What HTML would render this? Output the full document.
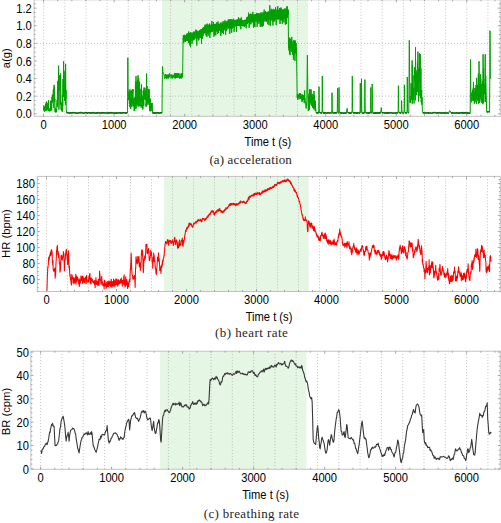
<!DOCTYPE html><html><head><meta charset="utf-8"><style>html,body{margin:0;padding:0;background:#fff;}svg{display:block;}</style></head><body><svg width="501" height="523" viewBox="0 0 501 523">
<rect width="501" height="523" fill="#fff"/>
<rect x="162.0" y="-0.2" width="146.0" height="116.5" fill="#e5f6e4"/>
<line x1="43.60" y1="-0.2" x2="43.60" y2="116.3" stroke="#ababab" stroke-width="0.8" stroke-dasharray="0.9 2.1"/>
<line x1="64.76" y1="-0.2" x2="64.76" y2="116.3" stroke="#ababab" stroke-width="0.8" stroke-dasharray="0.9 2.1"/>
<line x1="85.92" y1="-0.2" x2="85.92" y2="116.3" stroke="#ababab" stroke-width="0.8" stroke-dasharray="0.9 2.1"/>
<line x1="107.08" y1="-0.2" x2="107.08" y2="116.3" stroke="#ababab" stroke-width="0.8" stroke-dasharray="0.9 2.1"/>
<line x1="128.24" y1="-0.2" x2="128.24" y2="116.3" stroke="#ababab" stroke-width="0.8" stroke-dasharray="0.9 2.1"/>
<line x1="149.39" y1="-0.2" x2="149.39" y2="116.3" stroke="#ababab" stroke-width="0.8" stroke-dasharray="0.9 2.1"/>
<line x1="170.55" y1="-0.2" x2="170.55" y2="116.3" stroke="#ababab" stroke-width="0.8" stroke-dasharray="0.9 2.1"/>
<line x1="191.71" y1="-0.2" x2="191.71" y2="116.3" stroke="#ababab" stroke-width="0.8" stroke-dasharray="0.9 2.1"/>
<line x1="212.87" y1="-0.2" x2="212.87" y2="116.3" stroke="#ababab" stroke-width="0.8" stroke-dasharray="0.9 2.1"/>
<line x1="234.03" y1="-0.2" x2="234.03" y2="116.3" stroke="#ababab" stroke-width="0.8" stroke-dasharray="0.9 2.1"/>
<line x1="255.19" y1="-0.2" x2="255.19" y2="116.3" stroke="#ababab" stroke-width="0.8" stroke-dasharray="0.9 2.1"/>
<line x1="276.35" y1="-0.2" x2="276.35" y2="116.3" stroke="#ababab" stroke-width="0.8" stroke-dasharray="0.9 2.1"/>
<line x1="297.51" y1="-0.2" x2="297.51" y2="116.3" stroke="#ababab" stroke-width="0.8" stroke-dasharray="0.9 2.1"/>
<line x1="318.67" y1="-0.2" x2="318.67" y2="116.3" stroke="#ababab" stroke-width="0.8" stroke-dasharray="0.9 2.1"/>
<line x1="339.83" y1="-0.2" x2="339.83" y2="116.3" stroke="#ababab" stroke-width="0.8" stroke-dasharray="0.9 2.1"/>
<line x1="360.99" y1="-0.2" x2="360.99" y2="116.3" stroke="#ababab" stroke-width="0.8" stroke-dasharray="0.9 2.1"/>
<line x1="382.14" y1="-0.2" x2="382.14" y2="116.3" stroke="#ababab" stroke-width="0.8" stroke-dasharray="0.9 2.1"/>
<line x1="403.30" y1="-0.2" x2="403.30" y2="116.3" stroke="#ababab" stroke-width="0.8" stroke-dasharray="0.9 2.1"/>
<line x1="424.46" y1="-0.2" x2="424.46" y2="116.3" stroke="#ababab" stroke-width="0.8" stroke-dasharray="0.9 2.1"/>
<line x1="445.62" y1="-0.2" x2="445.62" y2="116.3" stroke="#ababab" stroke-width="0.8" stroke-dasharray="0.9 2.1"/>
<line x1="466.78" y1="-0.2" x2="466.78" y2="116.3" stroke="#ababab" stroke-width="0.8" stroke-dasharray="0.9 2.1"/>
<line x1="487.94" y1="-0.2" x2="487.94" y2="116.3" stroke="#ababab" stroke-width="0.8" stroke-dasharray="0.9 2.1"/>
<line x1="34.1" y1="96.15" x2="500.3" y2="96.15" stroke="#ababab" stroke-width="0.8" stroke-dasharray="0.9 2.1"/>
<line x1="34.1" y1="43.35" x2="500.3" y2="43.35" stroke="#ababab" stroke-width="0.8" stroke-dasharray="0.9 2.1"/>
<path d="M183.30,36.04L184.30,35.64L185.30,35.23L186.29,34.83L187.29,34.42L188.29,34.02L189.29,33.61L190.29,33.21L191.28,32.80L192.28,32.45L193.28,32.25L194.28,32.04L195.28,31.83L196.28,31.62L197.27,31.41L198.27,31.20L199.27,30.99L200.27,30.57L201.27,29.59L202.26,28.60L203.26,27.61L204.26,26.63L205.26,25.84L206.26,25.62L207.25,25.41L208.25,25.19L209.25,24.97L210.25,24.75L211.25,24.53L212.24,24.31L213.24,24.10L214.24,23.88L215.24,23.73L216.24,23.81L217.24,23.88L218.23,23.96L219.23,24.03L220.23,23.99L221.23,23.57L222.23,23.14L223.22,22.72L224.22,22.30L225.22,21.87L226.22,21.46L227.22,21.05L228.21,20.64L229.21,20.23L230.21,19.89L231.21,19.84L232.21,19.79L233.20,19.75L234.20,19.70L235.20,19.66L236.20,19.66L237.20,19.66L238.20,19.66L239.19,19.66L240.19,19.69L241.19,19.84L242.19,19.99L243.19,20.14L244.18,20.29L245.18,20.16L246.18,18.79L247.18,17.41L248.18,16.14L249.17,15.33L250.17,14.64L251.17,14.56L252.17,14.47L253.17,14.38L254.16,14.29L255.16,14.21L256.16,14.12L257.16,14.03L258.16,13.95L259.16,13.86L260.15,13.75L261.15,13.54L262.15,13.34L263.15,13.13L264.15,12.92L265.14,12.71L266.14,12.46L267.14,11.95L268.14,11.43L269.14,10.92L270.13,10.46L271.13,10.38L272.13,10.30L273.13,10.22L274.13,10.14L275.12,10.06L276.12,9.97L277.12,9.89L278.12,9.81L279.12,9.73L280.12,9.65L281.11,9.59L282.11,9.53L283.11,9.47L284.11,9.41L285.11,9.35L286.10,9.29L287.10,9.23L288.10,9.17L288.10,17.67L287.10,17.76L286.10,17.86L285.11,17.96L284.11,18.06L283.11,18.16L282.11,18.26L281.11,18.36L280.12,18.46L279.12,18.51L278.12,18.56L277.12,18.61L276.12,18.66L275.12,18.71L274.13,18.76L273.13,18.81L272.13,18.86L271.13,18.91L270.13,18.96L269.14,19.28L268.14,19.63L267.14,19.99L266.14,20.35L265.14,20.53L264.15,20.69L263.15,20.85L262.15,21.00L261.15,21.16L260.15,21.31L259.16,21.41L258.16,21.50L257.16,21.58L256.16,21.67L255.16,21.76L254.16,21.85L253.17,21.93L252.17,22.02L251.17,22.11L250.17,22.19L249.17,22.62L248.18,23.12L247.18,23.99L246.18,24.95L245.18,25.90L244.18,26.05L243.19,26.03L242.19,26.00L241.19,25.98L240.19,25.96L239.19,25.95L238.20,25.95L237.20,25.95L236.20,25.95L235.20,25.95L234.20,26.19L233.20,26.49L232.21,26.79L231.21,27.09L230.21,27.39L229.21,27.68L228.21,27.97L227.22,28.25L226.22,28.54L225.22,28.82L224.22,29.17L223.22,29.53L222.23,29.89L221.23,30.25L220.23,30.61L219.23,30.69L218.23,30.67L217.24,30.66L216.24,30.65L215.24,30.64L214.24,30.80L213.24,31.02L212.24,31.24L211.25,31.46L210.25,31.67L209.25,31.89L208.25,32.11L207.25,32.33L206.26,32.55L205.26,32.76L204.26,33.32L203.26,33.99L202.26,34.66L201.27,35.33L200.27,36.00L199.27,36.51L198.27,36.96L197.27,37.40L196.28,37.85L195.28,38.29L194.28,38.73L193.28,39.18L192.28,39.62L191.28,39.89L190.29,40.08L189.29,40.27L188.29,40.46L187.29,40.65L186.29,40.84L185.30,41.03L184.30,41.22L183.30,41.41Z" fill="#00a000" stroke="none"/>
<path d="M43.60,107.94L43.75,109.78L43.90,105.62L44.05,110.93L44.20,106.61L44.35,107.97L44.50,111.24L44.65,106.92L44.80,111.57L44.95,107.29L45.10,110.95L45.25,110.60L45.40,107.13L45.55,104.17L45.70,109.98L45.85,108.67L46.00,104.90L46.15,102.42L46.30,104.91L46.45,106.35L46.50,101.46L46.60,101.71L46.75,111.06L46.90,102.78L47.05,107.65L47.20,109.46L47.35,109.88L47.50,107.65L47.65,103.25L47.80,108.83L47.95,104.54L48.10,103.81L48.25,106.12L48.40,104.15L48.50,100.15L48.55,110.54L48.70,110.98L48.85,109.69L49.00,107.97L49.00,111.05L49.15,111.36L49.30,110.26L49.45,110.62L49.60,111.16L49.75,109.01L49.90,109.22L50.05,111.20L50.20,109.46L50.35,109.56L50.50,107.72L50.65,108.24L50.80,110.57L50.80,100.74L50.95,109.22L51.10,104.66L51.26,100.51L51.41,107.88L51.56,102.34L51.71,110.41L51.86,98.97L52.01,97.15L52.17,99.17L52.32,94.60L52.47,102.65L52.62,95.89L52.77,96.92L52.92,96.68L53.08,98.43L53.23,91.45L53.38,89.18L53.53,96.72L53.68,92.53L53.83,107.86L53.99,90.66L54.10,84.86L54.14,91.58L54.29,86.86L54.44,90.99L54.59,101.99L54.74,100.67L54.90,98.84L55.05,111.51L55.20,107.88L55.20,111.99L55.35,112.18L55.50,112.44L55.65,109.75L55.80,112.07L55.95,111.52L56.10,110.89L56.25,109.06L56.40,112.25L56.55,110.12L56.70,108.22L56.85,104.02L57.00,102.58L57.15,100.09L57.30,106.86L57.30,97.15L57.45,96.98L57.60,84.54L57.74,80.81L57.89,100.29L58.04,98.36L58.19,95.05L58.34,93.95L58.48,82.90L58.60,65.63L58.63,78.28L58.78,91.70L58.93,109.55L59.08,87.64L59.22,90.37L59.37,84.95L59.52,75.27L59.67,81.49L59.82,86.18L59.96,83.25L60.11,81.62L60.26,104.60L60.41,75.93L60.56,78.73L60.60,73.50L60.70,81.85L60.85,90.76L61.00,102.60L61.00,104.41L61.15,109.55L61.29,102.44L61.44,110.58L61.58,110.60L61.73,108.91L61.87,109.70L62.02,108.12L62.16,110.83L62.31,111.93L62.45,108.12L62.60,108.73L62.60,95.04L62.75,106.07L62.90,79.09L63.05,82.42L63.20,96.80L63.35,90.68L63.50,85.00L63.60,61.26L63.65,83.62L63.80,96.73L63.95,71.70L64.10,70.78L64.25,86.63L64.40,86.19L64.55,100.85L64.70,99.61L64.85,88.61L65.00,91.04L65.15,71.97L65.30,94.92L65.45,104.72L65.60,63.88L65.60,65.23L65.75,82.36L65.90,98.70L66.05,90.09L66.20,106.83L66.30,109.33L66.60,112.89L67.10,112.58L67.60,112.66L68.10,112.78L68.59,113.08L69.09,113.01L69.59,113.15L70.09,112.72L70.59,112.89L71.09,112.72L71.58,113.03L72.08,113.11L72.58,112.70L73.08,112.57L73.58,112.67L74.08,112.70L74.57,112.69L75.07,112.75L75.57,113.10L76.07,112.90L76.57,113.01L77.07,113.24L77.56,113.24L78.06,113.07L78.56,113.08L79.06,112.78L79.56,112.59L80.06,112.95L80.55,112.61L81.05,112.57L81.55,112.60L82.05,113.01L82.55,113.11L83.05,113.10L83.54,113.13L84.04,113.12L84.54,112.83L85.04,112.63L85.54,112.68L86.04,112.93L86.53,112.81L87.03,112.70L87.53,113.20L88.03,112.80L88.53,112.63L89.03,112.72L89.52,112.74L90.02,112.93L90.52,113.14L91.02,112.71L91.52,113.03L92.02,112.70L92.51,112.58L93.01,112.99L93.51,112.98L94.01,112.60L94.51,112.76L95.01,113.14L95.50,113.17L96.00,113.16L96.50,112.63L97.00,112.70L97.50,113.16L98.00,112.69L98.50,112.58L98.99,112.80L99.49,113.02L99.99,112.88L100.49,113.17L100.99,113.25L101.49,112.58L101.98,112.81L102.48,112.89L102.98,112.61L103.48,112.96L103.98,112.65L104.48,112.69L104.97,113.12L105.47,113.09L105.97,113.06L106.47,113.09L106.97,112.85L107.47,113.08L107.96,112.97L108.46,113.17L108.96,112.63L109.46,113.02L109.96,112.94L110.46,112.86L110.95,112.63L111.45,112.97L111.95,112.62L112.45,112.91L112.95,112.89L113.45,112.90L113.94,113.25L114.44,112.96L114.94,113.13L115.44,113.26L115.94,112.70L116.44,113.14L116.93,112.93L117.43,112.76L117.93,112.87L118.43,113.04L118.93,112.90L119.43,112.87L119.92,112.71L120.42,113.19L120.92,112.87L121.42,113.09L121.92,113.07L122.42,112.72L122.91,112.91L123.41,112.87L123.91,112.73L124.41,112.62L124.91,112.95L125.41,112.83L125.90,112.91L126.40,112.90L126.90,112.78L127.40,112.95L127.60,96.22L127.80,57.76L128.10,87.48L128.30,92.72L128.50,99.41L128.65,100.24L128.80,92.24L128.95,95.98L129.10,92.79L129.25,91.48L129.40,104.07L129.55,97.76L129.70,90.71L129.85,92.25L130.00,106.83L130.00,89.23L130.15,107.27L130.30,99.63L130.45,108.78L130.60,104.14L130.75,108.76L130.89,95.13L131.04,93.02L131.19,91.01L131.34,106.35L131.49,94.26L131.64,95.31L131.79,106.67L131.94,91.26L132.09,89.78L132.24,104.66L132.39,90.04L132.54,100.56L132.69,98.70L132.84,89.40L132.99,92.15L133.00,89.23L133.14,106.33L133.29,100.57L133.44,99.37L133.59,103.07L133.74,106.28L133.89,104.07L134.04,97.94L134.19,111.06L134.34,101.36L134.49,103.41L134.64,111.09L134.79,103.44L134.94,96.89L135.09,97.76L135.24,108.64L135.39,84.92L135.54,87.38L135.68,81.19L135.83,105.54L135.98,98.56L136.00,76.12L136.13,108.46L136.28,83.19L136.43,98.91L136.58,104.33L136.73,94.57L136.88,82.08L137.03,84.62L137.18,99.71L137.33,103.36L137.48,79.99L137.63,88.81L137.78,84.50L137.93,105.15L138.00,75.24L138.08,106.71L138.23,84.34L138.38,92.53L138.53,105.94L138.68,78.40L138.83,86.84L138.98,82.57L139.13,105.43L139.28,81.76L139.43,106.23L139.58,82.95L139.73,94.49L139.88,98.44L140.03,94.45L140.18,88.85L140.33,102.52L140.47,106.18L140.62,98.28L140.77,103.25L140.92,106.11L141.07,104.44L141.22,107.68L141.37,102.73L141.50,84.42L141.52,99.49L141.67,99.97L141.82,90.53L141.97,100.94L142.12,96.70L142.27,104.19L142.42,100.61L142.57,109.19L142.72,103.22L142.87,109.38L143.02,95.60L143.17,97.99L143.32,104.53L143.47,98.54L143.62,90.19L143.77,106.16L143.92,90.95L144.00,87.48L144.07,98.09L144.22,96.79L144.37,90.36L144.52,98.92L144.67,96.56L144.82,93.04L144.97,87.78L145.12,100.03L145.26,90.40L145.41,92.69L145.56,93.44L145.71,97.29L145.86,97.83L146.01,106.91L146.16,103.47L146.31,105.67L146.46,82.29L146.60,73.50L146.61,97.09L146.76,101.61L146.91,105.43L147.06,86.05L147.21,88.12L147.36,93.39L147.51,101.46L147.66,102.44L147.81,101.28L147.96,97.76L148.11,104.70L148.26,98.21L148.41,102.26L148.56,88.93L148.71,88.85L148.86,96.57L149.01,103.06L149.16,89.26L149.31,101.75L149.46,100.81L149.61,110.99L149.76,100.46L149.91,98.64L150.05,98.34L150.20,105.13L150.35,99.39L150.50,111.26L150.65,104.80L150.80,108.85L150.95,103.22L151.10,110.45L151.25,111.14L151.40,106.02L151.55,107.47L151.70,103.33L151.85,104.55L152.00,102.89L152.15,103.82L152.30,103.26L152.50,112.74L153.00,113.08L153.50,113.12L154.00,112.66L154.50,113.25L155.00,112.84L155.50,112.90L156.00,113.32L156.50,112.77L157.00,112.73L157.50,112.91L158.00,112.84L158.50,112.78L159.00,113.25L159.50,112.98L160.00,113.00L160.50,112.77L161.00,112.79L161.50,112.77L162.00,112.94L162.20,87.48L162.50,66.50L162.90,71.75L163.50,73.50L163.80,74.06L164.00,75.15L164.20,75.09L164.40,77.53L164.60,78.58L164.80,78.04L165.00,76.83L165.20,78.18L165.40,74.29L165.60,75.76L165.80,75.39L166.00,75.39L166.20,75.09L166.40,76.11L166.60,78.72L166.80,74.45L167.00,74.70L167.20,76.02L167.40,75.84L167.60,75.17L167.80,78.38L168.00,74.73L168.20,77.37L168.40,78.33L168.60,77.29L168.80,74.75L169.00,77.61L169.20,74.67L169.40,73.37L169.60,76.02L169.80,76.63L170.00,76.09L170.20,74.95L170.40,74.48L170.60,75.31L170.80,75.16L171.00,78.31L171.20,77.92L171.40,77.32L171.60,74.57L171.80,77.03L172.00,75.55L172.20,78.67L172.40,78.40L172.60,77.22L172.80,74.93L173.00,74.81L173.20,74.90L173.40,77.08L173.60,75.80L173.80,76.09L174.00,76.07L174.20,78.06L174.40,73.61L174.60,77.60L174.80,73.11L175.00,73.34L175.20,78.64L175.40,76.09L175.60,73.99L175.80,73.12L176.00,76.13L176.20,77.18L176.40,77.52L176.60,73.22L176.80,77.51L177.00,75.33L177.20,77.91L177.40,75.66L177.60,73.13L177.80,77.96L178.00,73.90L178.20,75.73L178.40,73.49L178.60,74.57L178.80,77.37L179.00,73.40L179.20,75.84L179.40,78.59L179.60,78.72L179.80,75.80L180.00,76.04L180.20,76.93L180.40,77.89L180.60,76.67L180.80,76.83L181.00,73.66L181.20,78.73L181.40,74.19L181.60,73.65L181.80,78.01L182.00,73.10L182.20,74.39L182.40,73.23L182.60,76.97L182.80,61.26L183.10,38.54L183.20,39.70L183.36,34.98L183.52,39.71L183.68,42.93L183.84,36.01L184.00,35.18L184.16,40.28L184.32,40.83L184.48,34.81L184.64,35.87L184.80,35.01L184.96,37.84L185.12,41.79L185.28,38.53L185.44,36.92L185.60,41.71L185.76,41.04L185.92,39.23L186.08,35.92L186.24,39.85L186.40,39.47L186.56,38.64L186.72,40.57L186.88,34.20L187.04,40.01L187.20,33.28L187.36,40.64L187.52,41.03L187.68,41.00L187.84,39.50L188.00,33.89L188.16,38.05L188.32,37.01L188.48,43.14L188.64,31.51L188.80,35.91L188.96,39.64L189.12,39.30L189.28,37.44L189.44,33.66L189.60,45.24L189.76,33.09L189.92,43.52L190.08,32.66L190.24,33.27L190.40,42.21L190.50,47.28L190.56,36.35L190.70,35.04L190.72,32.24L190.88,35.03L191.04,36.83L191.20,40.89L191.36,38.96L191.52,34.83L191.68,39.93L191.84,34.82L192.00,43.91L192.16,35.25L192.32,38.78L192.48,40.82L192.64,36.31L192.80,34.45L192.96,36.06L193.12,38.21L193.28,33.74L193.44,40.24L193.60,33.94L193.76,37.85L193.92,31.50L194.08,39.81L194.24,36.14L194.40,38.14L194.56,33.09L194.72,37.94L194.88,36.90L195.04,37.57L195.20,32.74L195.36,30.99L195.52,37.76L195.68,35.66L195.84,29.62L196.00,37.33L196.16,39.43L196.32,35.64L196.49,31.37L196.65,30.37L196.80,45.53L196.81,36.00L196.97,30.83L197.00,35.04L197.13,38.37L197.29,35.41L197.45,35.74L197.61,38.38L197.77,35.46L197.93,37.24L198.09,36.50L198.25,31.51L198.41,40.49L198.57,34.99L198.73,36.34L198.89,39.93L199.05,31.41L199.21,37.94L199.37,30.51L199.53,31.79L199.69,34.83L199.85,30.14L200.01,35.27L200.17,34.75L200.33,37.00L200.49,29.92L200.65,38.06L200.81,33.03L200.97,29.14L201.13,34.55L201.29,32.49L201.45,34.87L201.50,43.78L201.61,30.24L201.70,35.04L201.77,29.81L201.93,33.33L202.09,32.93L202.25,35.19L202.41,29.37L202.57,38.55L202.73,32.75L202.89,27.78L203.05,35.87L203.21,30.86L203.37,31.19L203.53,31.33L203.69,28.87L203.85,27.15L204.01,33.66L204.17,31.96L204.33,31.10L204.49,32.61L204.65,32.06L204.81,25.86L204.97,31.05L205.13,24.60L205.29,31.88L205.45,27.79L205.61,33.05L205.77,26.12L205.93,35.50L206.09,32.78L206.25,24.54L206.41,24.92L206.57,25.50L206.73,31.29L206.89,36.88L207.05,27.76L207.21,23.62L207.37,31.20L207.53,27.35L207.69,33.47L207.85,27.02L208.01,30.51L208.17,25.83L208.33,35.51L208.49,28.11L208.65,32.49L208.81,26.65L208.97,30.57L209.13,24.10L209.29,27.78L209.45,29.19L209.61,23.58L209.77,31.23L209.93,37.82L210.09,28.98L210.25,29.11L210.41,28.55L210.57,32.81L210.73,26.75L210.89,32.02L211.05,29.28L211.21,31.41L211.37,27.76L211.53,31.69L211.69,24.97L211.85,20.99L212.01,23.26L212.17,32.09L212.33,28.83L212.49,26.57L212.65,30.95L212.81,30.32L212.97,24.29L213.13,30.63L213.29,28.51L213.45,22.17L213.61,25.32L213.77,31.85L213.93,36.61L214.09,31.05L214.25,26.86L214.41,29.17L214.57,26.47L214.73,25.71L214.89,35.25L215.05,27.28L215.21,24.65L215.37,27.59L215.53,32.65L215.69,34.30L215.85,35.32L216.01,31.20L216.17,24.58L216.33,31.47L216.49,28.40L216.65,30.69L216.81,22.56L216.97,24.29L217.13,22.73L217.29,22.98L217.45,30.43L217.61,33.82L217.77,24.89L217.93,23.59L218.09,21.54L218.25,23.40L218.41,29.53L218.57,32.94L218.73,30.48L218.89,25.68L219.05,30.42L219.21,30.92L219.37,26.11L219.53,23.93L219.69,26.64L219.85,31.02L220.01,26.20L220.17,24.59L220.33,22.75L220.49,28.49L220.65,27.67L220.81,36.00L220.97,29.29L221.13,22.46L221.29,25.36L221.45,32.26L221.61,25.68L221.77,26.58L221.93,30.07L222.09,31.26L222.25,33.07L222.41,29.03L222.57,25.54L222.74,25.15L222.90,29.70L223.06,21.26L223.22,24.82L223.38,23.39L223.54,34.13L223.70,25.35L223.86,24.49L224.02,21.65L224.18,28.15L224.34,30.04L224.50,26.52L224.66,29.79L224.82,30.18L224.98,20.19L225.14,24.34L225.30,23.95L225.46,28.42L225.62,34.74L225.78,22.40L225.94,29.93L226.10,22.64L226.26,22.61L226.42,31.08L226.58,29.44L226.74,22.34L226.90,21.33L227.06,27.04L227.22,25.29L227.38,24.36L227.54,23.11L227.70,27.34L227.86,29.33L228.02,27.05L228.18,19.79L228.34,26.02L228.50,25.96L228.66,19.97L228.82,22.11L228.98,19.10L229.14,20.47L229.30,20.22L229.46,21.53L229.62,25.82L229.78,33.76L229.94,29.50L230.10,19.18L230.26,29.05L230.42,21.61L230.58,21.55L230.74,27.99L230.90,24.91L231.06,20.26L231.22,27.83L231.38,19.29L231.54,27.32L231.70,32.77L231.86,20.28L232.02,20.15L232.18,28.67L232.34,20.78L232.50,24.98L232.66,27.79L232.82,25.25L232.98,24.40L233.14,18.77L233.30,19.82L233.46,27.43L233.62,23.63L233.78,24.42L233.94,22.64L234.10,31.79L234.26,28.49L234.42,20.56L234.58,27.28L234.74,22.92L234.90,25.59L235.06,24.14L235.22,24.90L235.38,24.69L235.54,21.06L235.70,26.21L235.86,26.47L236.02,21.08L236.18,21.69L236.34,23.67L236.50,31.83L236.66,26.95L236.82,24.87L236.98,22.79L237.14,19.45L237.30,23.15L237.46,20.58L237.62,21.53L237.78,24.32L237.94,19.81L238.10,20.69L238.26,23.34L238.42,17.42L238.58,19.44L238.74,25.50L238.90,21.03L239.06,25.82L239.22,25.01L239.38,22.61L239.54,24.31L239.70,18.65L239.86,26.28L240.02,26.29L240.18,18.61L240.34,20.81L240.50,25.48L240.66,26.25L240.82,29.27L240.98,20.40L241.14,22.90L241.30,17.34L241.46,23.74L241.62,19.50L241.78,22.34L241.94,23.64L242.10,21.13L242.26,20.71L242.42,20.08L242.58,21.86L242.74,24.59L242.90,26.37L243.06,20.75L243.22,22.03L243.38,23.72L243.54,22.13L243.70,21.71L243.86,25.70L244.02,20.92L244.18,23.25L244.34,26.87L244.50,25.89L244.66,19.72L244.82,26.38L244.98,22.92L245.14,22.98L245.30,20.24L245.46,23.43L245.62,24.90L245.78,23.22L245.94,25.32L246.10,27.65L246.26,28.26L246.42,22.27L246.58,22.69L246.74,23.66L246.90,17.07L247.06,23.38L247.22,21.64L247.38,23.89L247.54,17.38L247.70,20.38L247.86,22.52L248.02,21.14L248.18,16.53L248.34,19.83L248.50,12.68L248.66,20.75L248.82,21.52L248.99,21.57L249.15,27.84L249.31,21.12L249.47,20.82L249.63,19.42L249.79,16.92L249.95,13.98L250.11,23.07L250.27,14.15L250.43,22.17L250.59,23.69L250.75,13.63L250.91,24.35L251.07,21.13L251.23,19.94L251.39,14.07L251.55,21.78L251.71,17.15L251.87,16.50L252.03,15.24L252.19,21.42L252.35,17.91L252.51,18.86L252.67,17.62L252.83,11.87L252.99,22.80L253.15,21.89L253.31,18.16L253.47,27.78L253.63,18.45L253.79,16.37L253.95,19.40L254.11,26.66L254.27,26.50L254.43,16.13L254.59,19.81L254.75,17.91L254.91,27.02L255.07,16.68L255.23,14.18L255.39,18.23L255.55,15.11L255.71,18.61L255.87,17.35L256.03,20.08L256.19,18.90L256.35,20.27L256.51,12.88L256.67,14.79L256.83,19.76L256.99,16.92L257.15,26.84L257.31,13.75L257.47,22.50L257.63,22.95L257.79,13.33L257.95,16.08L258.11,13.43L258.27,16.49L258.43,15.64L258.59,15.79L258.75,15.92L258.91,23.85L259.07,22.50L259.23,13.28L259.39,18.99L259.55,14.59L259.71,20.12L259.87,18.39L260.03,18.28L260.19,25.75L260.35,27.00L260.51,16.67L260.67,24.74L260.83,16.44L260.99,12.30L261.15,26.02L261.31,20.37L261.47,26.18L261.63,21.28L261.79,21.61L261.95,26.29L262.11,19.92L262.27,26.53L262.43,14.84L262.59,25.72L262.75,14.82L262.91,12.40L263.07,12.03L263.23,25.75L263.39,23.94L263.55,14.45L263.71,13.00L263.87,21.60L264.03,16.02L264.19,9.66L264.35,18.25L264.51,15.34L264.67,17.95L264.83,11.86L264.99,15.93L265.15,21.39L265.31,14.38L265.47,18.39L265.63,11.33L265.79,15.40L265.95,17.26L266.11,17.77L266.27,15.23L266.43,12.89L266.59,21.72L266.75,17.00L266.91,12.55L267.07,21.11L267.23,12.44L267.39,15.05L267.55,11.83L267.71,13.63L267.87,24.22L268.03,12.20L268.19,12.66L268.35,18.48L268.51,13.33L268.67,18.68L268.83,12.33L268.99,25.18L269.15,11.93L269.31,14.09L269.47,10.45L269.63,15.15L269.79,18.46L269.80,5.32L269.95,18.50L270.00,15.81L270.11,16.33L270.27,15.85L270.43,25.83L270.59,23.91L270.75,11.27L270.91,13.51L271.07,20.75L271.23,8.83L271.39,14.79L271.55,17.45L271.71,15.49L271.87,11.42L272.03,9.08L272.19,20.07L272.35,20.78L272.51,13.87L272.67,15.04L272.83,23.63L272.99,25.52L273.15,17.41L273.31,12.82L273.47,12.46L273.63,15.10L273.79,8.90L273.95,21.79L274.11,16.22L274.27,9.59L274.43,19.86L274.59,11.90L274.75,21.17L274.91,11.33L275.07,12.26L275.24,13.28L275.40,19.11L275.56,7.28L275.72,18.34L275.88,18.64L276.04,20.20L276.20,25.21L276.36,17.68L276.52,9.86L276.68,18.64L276.84,19.15L277.00,10.12L277.16,14.83L277.32,10.32L277.48,7.68L277.64,19.60L277.80,6.24L277.96,17.04L278.12,18.37L278.28,10.05L278.44,18.21L278.60,16.37L278.76,18.85L278.92,19.54L279.08,12.07L279.24,14.39L279.40,17.06L279.56,15.75L279.72,7.99L279.88,18.99L280.04,23.99L280.20,16.57L280.36,19.95L280.52,7.91L280.68,9.96L280.84,17.83L281.00,8.97L281.16,7.49L281.32,10.67L281.48,20.48L281.64,12.61L281.80,16.67L281.96,12.54L282.12,10.12L282.28,23.78L282.44,14.98L282.60,19.24L282.76,15.84L282.92,9.43L283.08,19.67L283.24,14.09L283.40,16.61L283.56,9.78L283.72,17.82L283.88,22.49L284.04,14.39L284.20,18.28L284.36,9.92L284.52,15.85L284.68,15.11L284.84,18.93L285.00,8.23L285.16,13.49L285.32,24.69L285.48,16.93L285.64,18.36L285.80,20.07L285.96,11.22L286.12,19.32L286.28,12.65L286.44,24.06L286.60,20.12L286.76,13.60L286.92,6.69L287.08,17.80L287.24,6.31L287.40,10.55L287.56,9.60L287.72,14.76L287.88,9.42L288.04,14.65L288.20,10.14L288.50,47.41L288.62,44.77L288.74,39.67L288.86,39.59L288.98,50.49L289.10,37.69L289.21,47.91L289.33,42.49L289.45,53.62L289.57,52.45L289.69,37.82L289.81,38.37L289.93,40.31L290.05,55.12L290.17,48.50L290.29,48.49L290.41,38.87L290.52,49.04L290.64,46.38L290.76,48.69L290.88,43.33L291.00,44.22L291.12,45.53L291.24,46.35L291.36,51.34L291.48,51.71L291.60,47.55L291.72,36.96L291.84,40.96L291.95,45.27L292.07,51.18L292.19,47.17L292.31,44.84L292.43,49.77L292.55,51.32L292.67,48.81L292.79,54.97L292.91,41.15L293.03,46.25L293.15,50.85L293.26,50.78L293.38,59.65L293.50,57.68L293.62,48.65L293.74,54.39L293.86,39.94L293.98,53.86L294.10,50.55L294.22,46.06L294.34,42.55L294.46,44.07L294.58,43.77L294.69,43.38L294.81,41.13L294.93,60.96L295.05,47.17L295.17,40.42L295.29,50.40L295.41,42.16L295.53,51.30L295.65,49.95L295.77,53.11L295.89,48.32L296.00,52.79L296.12,42.94L296.24,50.69L296.36,53.45L296.48,48.36L296.60,57.82L296.90,78.74L297.20,97.59L297.36,94.23L297.52,98.41L297.68,99.94L297.84,96.06L298.00,93.73L298.16,96.26L298.31,96.42L298.47,95.32L298.63,97.50L298.79,97.56L298.95,95.41L299.11,99.27L299.27,97.27L299.43,96.13L299.59,93.53L299.75,97.05L299.91,93.34L300.07,96.48L300.22,98.91L300.38,93.48L300.54,96.63L300.70,94.07L300.86,94.58L301.02,94.13L301.18,99.10L301.34,96.71L301.50,98.92L301.66,95.93L301.82,97.83L301.98,101.69L302.13,94.89L302.29,101.35L302.45,94.54L302.61,95.74L302.77,96.92L302.93,98.53L303.09,96.72L303.25,96.43L303.41,99.57L303.57,95.18L303.73,99.75L303.89,96.84L304.04,96.23L304.20,103.19L304.36,98.27L304.52,98.07L304.68,90.42L304.84,96.51L305.00,97.44L305.50,103.21L306.20,108.46L306.80,100.59L307.40,55.14L307.80,87.48L308.20,111.08L308.50,110.41L308.65,96.66L308.80,100.39L308.95,93.71L309.10,101.64L309.24,97.66L309.39,104.72L309.50,89.23L309.54,110.09L309.69,90.49L309.84,91.91L309.99,102.94L310.14,91.09L310.29,92.64L310.44,103.19L310.59,96.80L310.73,89.96L310.88,98.99L311.00,89.23L311.03,90.25L311.18,104.83L311.33,101.80L311.48,95.79L311.63,105.81L311.78,104.13L311.93,94.43L312.07,101.33L312.22,96.63L312.37,106.16L312.52,107.64L312.67,104.09L312.82,107.20L312.97,93.80L313.12,104.91L313.27,99.81L313.41,108.48L313.56,99.87L313.71,102.48L313.86,101.97L314.00,90.98L314.01,109.59L314.16,108.14L314.31,95.02L314.46,103.67L314.61,105.94L314.76,107.18L314.90,105.63L315.05,106.66L315.20,110.85L315.35,100.61L315.50,105.29L316.00,111.95L316.30,113.15L316.76,112.77L317.22,113.20L317.68,113.07L318.14,112.68L318.60,113.17L318.80,109.33L319.00,86.61L319.25,108.46L319.45,111.95L319.70,112.95L320.25,112.68L320.80,112.70L321.35,113.15L321.90,113.02L322.10,109.33L322.30,76.12L322.55,108.46L322.75,111.95L323.00,112.76L323.51,113.00L324.01,112.59L324.52,113.12L325.02,112.60L325.53,112.91L326.04,113.10L326.54,112.95L327.05,113.17L327.55,112.77L328.06,113.08L328.56,112.63L329.07,112.85L329.58,113.01L330.08,113.09L330.59,112.84L331.09,113.11L331.60,112.65L331.80,109.33L332.00,92.72L332.25,108.46L332.45,111.95L332.70,113.18L333.19,112.90L333.68,112.88L334.17,113.07L334.66,112.72L335.14,112.99L335.63,112.80L336.12,112.87L336.61,113.05L337.10,112.99L337.30,109.33L337.50,88.35L337.75,108.46L337.95,111.95L338.20,113.20L338.60,113.14L338.80,109.33L339.00,87.48L339.25,108.46L339.45,111.95L339.70,112.67L340.19,113.04L340.69,112.80L341.18,113.19L341.67,112.87L342.16,113.01L342.66,112.91L343.15,113.06L343.64,113.22L344.14,113.05L344.63,113.10L345.12,113.17L345.61,112.76L346.11,113.07L346.60,112.98L346.80,109.33L347.00,108.46L347.25,108.46L347.45,111.95L347.70,112.63L348.23,112.72L348.75,112.65L349.27,112.66L349.80,113.17L350.33,113.07L350.85,113.24L351.38,112.79L351.90,112.80L352.10,109.33L352.30,76.12L352.55,108.46L352.75,111.95L353.00,113.02L353.49,112.97L353.99,112.80L354.48,112.77L354.97,113.09L355.46,112.67L355.96,113.02L356.45,112.82L356.94,113.14L357.44,113.18L357.93,112.62L358.42,112.75L358.91,112.76L359.41,113.23L359.90,113.24L360.10,109.33L360.30,83.11L360.55,108.46L360.75,111.95L361.00,113.15L361.10,113.12L361.30,109.33L361.50,78.74L361.75,108.46L361.95,111.95L362.20,113.05L362.66,113.00L363.12,113.24L363.58,113.05L364.04,112.82L364.50,113.14L364.70,109.33L364.90,79.61L365.15,108.46L365.35,111.95L365.60,112.68L366.08,112.86L366.56,112.76L367.04,113.08L367.52,112.96L368.00,112.78L368.48,113.02L368.96,113.26L369.44,112.68L369.92,112.72L370.40,113.06L370.60,109.33L370.80,87.48L371.05,108.46L371.25,111.95L371.50,113.23L371.80,112.67L372.00,109.33L372.20,83.98L372.45,108.46L372.65,111.95L372.90,112.84L373.39,113.23L373.89,113.09L374.38,113.19L374.88,112.71L375.37,113.12L375.86,112.62L376.36,112.74L376.85,113.20L377.34,112.78L377.84,112.99L378.33,112.74L378.82,112.68L379.32,113.07L379.81,113.20L380.31,112.60L380.80,112.97L381.00,109.33L381.20,107.58L381.45,108.46L381.65,111.95L381.90,112.61L382.40,112.78L382.91,112.75L383.41,112.68L383.91,112.82L384.42,112.95L384.92,113.23L385.42,112.77L385.92,112.96L386.43,112.91L386.93,112.61L387.43,113.17L387.94,112.73L388.44,113.23L388.94,112.77L389.45,112.70L389.95,113.08L390.45,112.88L390.96,112.59L391.46,112.82L391.96,112.88L392.47,113.09L392.97,113.22L393.47,113.01L393.98,112.98L394.48,113.12L394.98,113.05L395.48,113.17L395.99,112.77L396.49,112.79L396.99,113.10L397.50,113.09L398.00,112.90L398.20,109.33L398.40,85.73L398.65,108.46L398.85,111.95L399.10,112.95L399.62,112.61L400.15,113.02L400.68,113.05L401.20,112.64L401.40,109.33L401.60,100.59L401.85,108.46L402.05,111.95L402.30,113.16L402.87,112.87L403.43,113.03L404.00,112.69L404.20,109.33L404.40,84.86L404.65,108.46L404.85,111.95L405.10,112.88L405.55,112.73L406.00,113.14L406.45,112.80L406.90,112.84L407.10,109.33L407.30,76.99L407.55,108.46L407.75,111.95L408.00,112.94L408.40,112.73L408.80,112.68L409.30,40.28L409.80,96.22L410.00,102.59L410.15,98.38L410.30,96.20L410.45,99.11L410.60,102.96L410.75,96.01L410.90,97.86L411.05,83.26L411.20,89.03L411.35,99.44L411.50,90.76L411.65,84.53L411.80,87.27L411.95,94.83L412.10,99.50L412.10,60.39L412.25,103.72L412.40,65.30L412.55,75.04L412.70,99.84L412.85,79.64L413.00,74.85L413.15,85.85L413.30,99.52L413.45,88.54L413.60,90.27L413.75,97.17L413.90,88.28L414.05,103.49L414.20,76.46L414.35,81.04L414.50,79.33L414.65,67.12L414.80,74.04L414.95,88.81L415.10,87.99L415.25,93.04L415.40,100.41L415.50,47.28L415.55,59.23L415.70,61.33L415.85,87.23L416.00,93.70L416.15,81.74L416.30,76.83L416.45,72.94L416.60,95.12L416.75,73.44L416.90,70.33L417.05,71.60L417.20,86.17L417.35,92.06L417.50,63.64L417.65,84.11L417.80,80.90L417.90,51.65L417.95,72.42L418.10,83.23L418.25,68.62L418.40,92.43L418.55,101.52L418.70,83.52L418.85,79.07L419.00,69.79L419.15,70.71L419.30,59.70L419.40,53.39L419.45,57.63L419.60,80.03L419.75,83.43L419.90,95.80L420.05,88.28L420.20,73.98L420.30,54.27L420.35,97.94L420.50,70.29L420.65,94.42L420.80,83.67L420.95,68.42L421.10,99.74L421.25,102.38L421.40,90.24L421.55,98.36L421.70,90.11L421.85,104.79L422.00,97.35L422.40,111.95L422.80,112.66L423.30,112.71L423.80,112.97L424.30,113.06L424.80,112.80L425.30,112.90L425.80,112.97L426.30,113.03L426.80,112.96L427.30,112.80L427.80,112.69L428.30,112.63L428.80,113.15L429.30,113.06L429.80,112.95L430.30,112.87L430.80,113.02L431.30,113.13L431.80,113.20L432.30,113.04L432.80,112.94L433.30,112.58L433.80,112.63L434.30,112.66L434.80,112.58L435.30,112.59L435.80,112.83L436.30,112.70L436.80,113.22L437.30,112.79L437.80,112.84L438.30,113.06L438.80,112.86L439.30,112.60L439.80,112.93L440.30,112.81L440.80,113.05L441.30,113.02L441.80,112.64L442.30,113.24L442.80,113.13L443.30,112.79L443.80,112.95L444.30,113.20L444.80,112.80L445.30,113.00L445.80,112.86L446.30,112.97L446.80,112.89L447.30,112.87L447.80,112.99L448.30,113.18L448.80,113.14L449.50,110.64L450.30,111.08L450.80,112.64L451.30,112.88L451.79,113.18L452.29,112.66L452.79,113.09L453.29,113.20L453.78,112.89L454.28,113.09L454.78,112.92L455.28,112.88L455.77,113.10L456.27,112.86L456.77,113.18L457.27,112.90L457.76,112.85L458.26,113.21L458.76,112.98L459.26,113.21L459.75,112.96L460.25,112.66L460.75,112.88L461.25,112.76L461.74,112.73L462.24,113.18L462.74,112.57L463.24,112.76L463.73,113.19L464.23,112.68L464.73,112.99L465.23,113.14L465.72,112.59L466.22,112.87L466.72,112.72L467.22,113.17L467.71,112.72L468.21,113.22L468.71,113.10L469.21,113.00L469.70,113.25L470.20,112.85L470.50,59.51L470.90,100.59L471.20,102.42L471.35,101.28L471.50,96.96L471.65,99.17L471.80,93.70L471.95,95.88L472.10,92.24L472.25,95.42L472.40,90.01L472.55,89.81L472.70,100.68L472.84,90.15L472.99,96.64L473.14,88.39L473.29,89.18L473.44,85.76L473.50,82.24L473.59,100.88L473.74,95.69L473.89,90.10L474.04,88.17L474.19,92.56L474.34,103.77L474.49,96.13L474.64,102.74L474.79,95.66L474.94,91.52L475.09,101.99L475.24,88.03L475.39,91.07L475.54,98.26L475.69,99.32L475.83,93.41L475.98,85.00L476.13,89.42L476.28,100.58L476.43,103.78L476.58,100.33L476.60,77.87L476.73,83.46L476.88,98.71L477.03,90.93L477.18,97.20L477.33,90.66L477.48,96.78L477.63,100.77L477.78,84.87L477.93,89.75L478.08,84.48L478.23,79.50L478.38,73.51L478.53,103.81L478.68,88.83L478.82,96.01L478.97,80.05L479.00,61.26L479.12,68.79L479.27,74.63L479.42,102.74L479.57,97.77L479.72,84.53L479.87,88.35L480.02,93.48L480.17,90.67L480.32,98.66L480.47,79.47L480.60,74.37L480.62,90.53L480.77,78.84L480.92,86.21L481.07,101.59L481.22,94.60L481.37,97.94L481.52,84.31L481.67,89.83L481.81,102.84L481.96,97.98L482.11,90.92L482.26,86.12L482.41,80.82L482.56,86.04L482.71,86.14L482.86,104.19L483.01,73.32L483.10,54.27L483.16,84.57L483.31,102.95L483.46,83.00L483.61,68.51L483.76,102.20L483.91,98.80L484.06,85.12L484.21,94.31L484.36,93.29L484.51,84.43L484.66,91.75L484.80,78.61L484.95,78.44L485.10,59.58L485.25,55.46L485.30,54.27L485.40,101.82L485.55,79.03L485.70,76.06L485.85,78.09L486.00,85.12L486.15,91.97L486.30,95.85L486.60,111.08L486.80,112.05L487.27,112.10L487.73,111.75L488.20,111.69L488.67,111.65L489.13,111.83L489.60,112.09L490.00,30.67L490.40,78.74" fill="none" stroke="#00a000" stroke-width="1" stroke-linejoin="round"/>
<path d="M66.60,112.89L67.10,112.58L67.60,112.66L68.10,112.78L68.59,113.08L69.09,113.01L69.59,113.15L70.09,112.72L70.59,112.89L71.09,112.72L71.58,113.03L72.08,113.11L72.58,112.70L73.08,112.57L73.58,112.67L74.08,112.70L74.57,112.69L75.07,112.75L75.57,113.10L76.07,112.90L76.57,113.01L77.07,113.24L77.56,113.24L78.06,113.07L78.56,113.08L79.06,112.78L79.56,112.59L80.06,112.95L80.55,112.61L81.05,112.57L81.55,112.60L82.05,113.01L82.55,113.11L83.05,113.10L83.54,113.13L84.04,113.12L84.54,112.83L85.04,112.63L85.54,112.68L86.04,112.93L86.53,112.81L87.03,112.70L87.53,113.20L88.03,112.80L88.53,112.63L89.03,112.72L89.52,112.74L90.02,112.93L90.52,113.14L91.02,112.71L91.52,113.03L92.02,112.70L92.51,112.58L93.01,112.99L93.51,112.98L94.01,112.60L94.51,112.76L95.01,113.14L95.50,113.17L96.00,113.16L96.50,112.63L97.00,112.70L97.50,113.16L98.00,112.69L98.50,112.58L98.99,112.80L99.49,113.02L99.99,112.88L100.49,113.17L100.99,113.25L101.49,112.58L101.98,112.81L102.48,112.89L102.98,112.61L103.48,112.96L103.98,112.65L104.48,112.69L104.97,113.12L105.47,113.09L105.97,113.06L106.47,113.09L106.97,112.85L107.47,113.08L107.96,112.97L108.46,113.17L108.96,112.63L109.46,113.02L109.96,112.94L110.46,112.86L110.95,112.63L111.45,112.97L111.95,112.62L112.45,112.91L112.95,112.89L113.45,112.90L113.94,113.25L114.44,112.96L114.94,113.13L115.44,113.26L115.94,112.70L116.44,113.14L116.93,112.93L117.43,112.76L117.93,112.87L118.43,113.04L118.93,112.90L119.43,112.87L119.92,112.71L120.42,113.19L120.92,112.87L121.42,113.09L121.92,113.07L122.42,112.72L122.91,112.91L123.41,112.87L123.91,112.73L124.41,112.62L124.91,112.95L125.41,112.83L125.90,112.91L126.40,112.90L126.90,112.78L127.40,112.95M152.50,112.74L153.00,113.08L153.50,113.12L154.00,112.66L154.50,113.25L155.00,112.84L155.50,112.90L156.00,113.32L156.50,112.77L157.00,112.73L157.50,112.91L158.00,112.84L158.50,112.78L159.00,113.25L159.50,112.98L160.00,113.00L160.50,112.77L161.00,112.79L161.50,112.77L162.00,112.94M316.30,113.15L316.76,112.77L317.22,113.20L317.68,113.07L318.14,112.68L318.60,113.17M319.70,112.95L320.25,112.68L320.80,112.70L321.35,113.15L321.90,113.02M323.00,112.76L323.51,113.00L324.01,112.59L324.52,113.12L325.02,112.60L325.53,112.91L326.04,113.10L326.54,112.95L327.05,113.17L327.55,112.77L328.06,113.08L328.56,112.63L329.07,112.85L329.58,113.01L330.08,113.09L330.59,112.84L331.09,113.11L331.60,112.65M332.70,113.18L333.19,112.90L333.68,112.88L334.17,113.07L334.66,112.72L335.14,112.99L335.63,112.80L336.12,112.87L336.61,113.05L337.10,112.99M338.20,113.20L338.60,113.14M339.70,112.67L340.19,113.04L340.69,112.80L341.18,113.19L341.67,112.87L342.16,113.01L342.66,112.91L343.15,113.06L343.64,113.22L344.14,113.05L344.63,113.10L345.12,113.17L345.61,112.76L346.11,113.07L346.60,112.98M347.70,112.63L348.23,112.72L348.75,112.65L349.27,112.66L349.80,113.17L350.33,113.07L350.85,113.24L351.38,112.79L351.90,112.80M353.00,113.02L353.49,112.97L353.99,112.80L354.48,112.77L354.97,113.09L355.46,112.67L355.96,113.02L356.45,112.82L356.94,113.14L357.44,113.18L357.93,112.62L358.42,112.75L358.91,112.76L359.41,113.23L359.90,113.24M361.00,113.15L361.10,113.12M362.20,113.05L362.66,113.00L363.12,113.24L363.58,113.05L364.04,112.82L364.50,113.14M365.60,112.68L366.08,112.86L366.56,112.76L367.04,113.08L367.52,112.96L368.00,112.78L368.48,113.02L368.96,113.26L369.44,112.68L369.92,112.72L370.40,113.06M371.50,113.23L371.80,112.67M372.90,112.84L373.39,113.23L373.89,113.09L374.38,113.19L374.88,112.71L375.37,113.12L375.86,112.62L376.36,112.74L376.85,113.20L377.34,112.78L377.84,112.99L378.33,112.74L378.82,112.68L379.32,113.07L379.81,113.20L380.31,112.60L380.80,112.97M381.90,112.61L382.40,112.78L382.91,112.75L383.41,112.68L383.91,112.82L384.42,112.95L384.92,113.23L385.42,112.77L385.92,112.96L386.43,112.91L386.93,112.61L387.43,113.17L387.94,112.73L388.44,113.23L388.94,112.77L389.45,112.70L389.95,113.08L390.45,112.88L390.96,112.59L391.46,112.82L391.96,112.88L392.47,113.09L392.97,113.22L393.47,113.01L393.98,112.98L394.48,113.12L394.98,113.05L395.48,113.17L395.99,112.77L396.49,112.79L396.99,113.10L397.50,113.09L398.00,112.90M399.10,112.95L399.62,112.61L400.15,113.02L400.68,113.05L401.20,112.64M402.30,113.16L402.87,112.87L403.43,113.03L404.00,112.69M405.10,112.88L405.55,112.73L406.00,113.14L406.45,112.80L406.90,112.84M408.00,112.94L408.40,112.73L408.80,112.68M422.80,112.66L423.30,112.71L423.80,112.97L424.30,113.06L424.80,112.80L425.30,112.90L425.80,112.97L426.30,113.03L426.80,112.96L427.30,112.80L427.80,112.69L428.30,112.63L428.80,113.15L429.30,113.06L429.80,112.95L430.30,112.87L430.80,113.02L431.30,113.13L431.80,113.20L432.30,113.04L432.80,112.94L433.30,112.58L433.80,112.63L434.30,112.66L434.80,112.58L435.30,112.59L435.80,112.83L436.30,112.70L436.80,113.22L437.30,112.79L437.80,112.84L438.30,113.06L438.80,112.86L439.30,112.60L439.80,112.93L440.30,112.81L440.80,113.05L441.30,113.02L441.80,112.64L442.30,113.24L442.80,113.13L443.30,112.79L443.80,112.95L444.30,113.20L444.80,112.80L445.30,113.00L445.80,112.86L446.30,112.97L446.80,112.89L447.30,112.87L447.80,112.99L448.30,113.18L448.80,113.14M450.80,112.64L451.30,112.88L451.79,113.18L452.29,112.66L452.79,113.09L453.29,113.20L453.78,112.89L454.28,113.09L454.78,112.92L455.28,112.88L455.77,113.10L456.27,112.86L456.77,113.18L457.27,112.90L457.76,112.85L458.26,113.21L458.76,112.98L459.26,113.21L459.75,112.96L460.25,112.66L460.75,112.88L461.25,112.76L461.74,112.73L462.24,113.18L462.74,112.57L463.24,112.76L463.73,113.19L464.23,112.68L464.73,112.99L465.23,113.14L465.72,112.59L466.22,112.87L466.72,112.72L467.22,113.17L467.71,112.72L468.21,113.22L468.71,113.10L469.21,113.00L469.70,113.25L470.20,112.85M486.80,112.05L487.27,112.10L487.73,111.75L488.20,111.69L488.67,111.65L489.13,111.83L489.60,112.09" fill="none" stroke="#0b6e0b" stroke-width="1.5" stroke-linejoin="round"/>
<rect x="34.1" y="-0.2" width="466.2" height="116.5" fill="none" stroke="#c2c2c2" stroke-width="1"/>
<path d="M43.60,116.3v-2.5M43.60,-0.2v2.5M57.71,116.3v-1.5M57.71,-0.2v1.5M71.81,116.3v-1.5M71.81,-0.2v1.5M85.92,116.3v-1.5M85.92,-0.2v1.5M100.02,116.3v-1.5M100.02,-0.2v1.5M114.13,116.3v-2.5M114.13,-0.2v2.5M128.24,116.3v-1.5M128.24,-0.2v1.5M142.34,116.3v-1.5M142.34,-0.2v1.5M156.45,116.3v-1.5M156.45,-0.2v1.5M170.55,116.3v-1.5M170.55,-0.2v1.5M184.66,116.3v-2.5M184.66,-0.2v2.5M198.77,116.3v-1.5M198.77,-0.2v1.5M212.87,116.3v-1.5M212.87,-0.2v1.5M226.98,116.3v-1.5M226.98,-0.2v1.5M241.08,116.3v-1.5M241.08,-0.2v1.5M255.19,116.3v-2.5M255.19,-0.2v2.5M269.30,116.3v-1.5M269.30,-0.2v1.5M283.40,116.3v-1.5M283.40,-0.2v1.5M297.51,116.3v-1.5M297.51,-0.2v1.5M311.61,116.3v-1.5M311.61,-0.2v1.5M325.72,116.3v-2.5M325.72,-0.2v2.5M339.83,116.3v-1.5M339.83,-0.2v1.5M353.93,116.3v-1.5M353.93,-0.2v1.5M368.04,116.3v-1.5M368.04,-0.2v1.5M382.14,116.3v-1.5M382.14,-0.2v1.5M396.25,116.3v-2.5M396.25,-0.2v2.5M410.36,116.3v-1.5M410.36,-0.2v1.5M424.46,116.3v-1.5M424.46,-0.2v1.5M438.57,116.3v-1.5M438.57,-0.2v1.5M452.67,116.3v-1.5M452.67,-0.2v1.5M466.78,116.3v-2.5M466.78,-0.2v2.5M480.89,116.3v-1.5M480.89,-0.2v1.5M494.99,116.3v-1.5M494.99,-0.2v1.5M34.1,113.75h2.5M500.3,113.75h-2.5M34.1,109.35h1.5M500.3,109.35h-1.5M34.1,104.95h1.5M500.3,104.95h-1.5M34.1,100.55h1.5M500.3,100.55h-1.5M34.1,96.15h2.5M500.3,96.15h-2.5M34.1,91.75h1.5M500.3,91.75h-1.5M34.1,87.35h1.5M500.3,87.35h-1.5M34.1,82.95h1.5M500.3,82.95h-1.5M34.1,78.55h2.5M500.3,78.55h-2.5M34.1,74.15h1.5M500.3,74.15h-1.5M34.1,69.75h1.5M500.3,69.75h-1.5M34.1,65.35h1.5M500.3,65.35h-1.5M34.1,60.95h2.5M500.3,60.95h-2.5M34.1,56.55h1.5M500.3,56.55h-1.5M34.1,52.15h1.5M500.3,52.15h-1.5M34.1,47.75h1.5M500.3,47.75h-1.5M34.1,43.35h2.5M500.3,43.35h-2.5M34.1,38.95h1.5M500.3,38.95h-1.5M34.1,34.55h1.5M500.3,34.55h-1.5M34.1,30.15h1.5M500.3,30.15h-1.5M34.1,25.75h2.5M500.3,25.75h-2.5M34.1,21.35h1.5M500.3,21.35h-1.5M34.1,16.95h1.5M500.3,16.95h-1.5M34.1,12.55h1.5M500.3,12.55h-1.5M34.1,8.15h2.5M500.3,8.15h-2.5M34.1,3.75h1.5M500.3,3.75h-1.5" stroke="#909090" stroke-width="0.8" fill="none"/>
<text transform="translate(31.7,118.47) scale(0.915,1)" text-anchor="end" font-family="Liberation Sans, sans-serif" font-size="12.2">0.0</text>
<text transform="translate(31.7,100.87) scale(0.915,1)" text-anchor="end" font-family="Liberation Sans, sans-serif" font-size="12.2">0.2</text>
<text transform="translate(31.7,83.27) scale(0.915,1)" text-anchor="end" font-family="Liberation Sans, sans-serif" font-size="12.2">0.4</text>
<text transform="translate(31.7,65.67) scale(0.915,1)" text-anchor="end" font-family="Liberation Sans, sans-serif" font-size="12.2">0.6</text>
<text transform="translate(31.7,48.07) scale(0.915,1)" text-anchor="end" font-family="Liberation Sans, sans-serif" font-size="12.2">0.8</text>
<text transform="translate(31.7,30.47) scale(0.915,1)" text-anchor="end" font-family="Liberation Sans, sans-serif" font-size="12.2">1.0</text>
<text transform="translate(31.7,12.87) scale(0.915,1)" text-anchor="end" font-family="Liberation Sans, sans-serif" font-size="12.2">1.2</text>
<text transform="translate(43.60,129.10) scale(0.915,1)" text-anchor="middle" font-family="Liberation Sans, sans-serif" font-size="12.2">0</text>
<text transform="translate(114.13,129.10) scale(0.915,1)" text-anchor="middle" font-family="Liberation Sans, sans-serif" font-size="12.2">1000</text>
<text transform="translate(184.66,129.10) scale(0.915,1)" text-anchor="middle" font-family="Liberation Sans, sans-serif" font-size="12.2">2000</text>
<text transform="translate(255.19,129.10) scale(0.915,1)" text-anchor="middle" font-family="Liberation Sans, sans-serif" font-size="12.2">3000</text>
<text transform="translate(325.72,129.10) scale(0.915,1)" text-anchor="middle" font-family="Liberation Sans, sans-serif" font-size="12.2">4000</text>
<text transform="translate(396.25,129.10) scale(0.915,1)" text-anchor="middle" font-family="Liberation Sans, sans-serif" font-size="12.2">5000</text>
<text transform="translate(466.78,129.10) scale(0.915,1)" text-anchor="middle" font-family="Liberation Sans, sans-serif" font-size="12.2">6000</text>
<text transform="translate(267.90,145.60) scale(0.915,1)" text-anchor="middle" font-family="Liberation Sans, sans-serif" font-size="12.2">Time t (s)</text>
<text transform="translate(9.9,58.3) rotate(-90)" text-anchor="middle" font-family="Liberation Sans, sans-serif" font-size="11.25">a(g)</text>
<text x="250.6" y="164" text-anchor="middle" font-family="Liberation Serif, serif" font-size="13" textLength="82.4" lengthAdjust="spacing" fill="#262626">(a) acceleration</text>
<rect x="163.9" y="176.4" width="144.79999999999998" height="115.1" fill="#e5f6e4"/>
<line x1="46.50" y1="176.4" x2="46.50" y2="291.5" stroke="#ababab" stroke-width="0.8" stroke-dasharray="0.9 2.1"/>
<line x1="67.50" y1="176.4" x2="67.50" y2="291.5" stroke="#ababab" stroke-width="0.8" stroke-dasharray="0.9 2.1"/>
<line x1="88.50" y1="176.4" x2="88.50" y2="291.5" stroke="#ababab" stroke-width="0.8" stroke-dasharray="0.9 2.1"/>
<line x1="109.50" y1="176.4" x2="109.50" y2="291.5" stroke="#ababab" stroke-width="0.8" stroke-dasharray="0.9 2.1"/>
<line x1="130.50" y1="176.4" x2="130.50" y2="291.5" stroke="#ababab" stroke-width="0.8" stroke-dasharray="0.9 2.1"/>
<line x1="151.50" y1="176.4" x2="151.50" y2="291.5" stroke="#ababab" stroke-width="0.8" stroke-dasharray="0.9 2.1"/>
<line x1="172.50" y1="176.4" x2="172.50" y2="291.5" stroke="#ababab" stroke-width="0.8" stroke-dasharray="0.9 2.1"/>
<line x1="193.50" y1="176.4" x2="193.50" y2="291.5" stroke="#ababab" stroke-width="0.8" stroke-dasharray="0.9 2.1"/>
<line x1="214.50" y1="176.4" x2="214.50" y2="291.5" stroke="#ababab" stroke-width="0.8" stroke-dasharray="0.9 2.1"/>
<line x1="235.50" y1="176.4" x2="235.50" y2="291.5" stroke="#ababab" stroke-width="0.8" stroke-dasharray="0.9 2.1"/>
<line x1="256.50" y1="176.4" x2="256.50" y2="291.5" stroke="#ababab" stroke-width="0.8" stroke-dasharray="0.9 2.1"/>
<line x1="277.50" y1="176.4" x2="277.50" y2="291.5" stroke="#ababab" stroke-width="0.8" stroke-dasharray="0.9 2.1"/>
<line x1="298.50" y1="176.4" x2="298.50" y2="291.5" stroke="#ababab" stroke-width="0.8" stroke-dasharray="0.9 2.1"/>
<line x1="319.50" y1="176.4" x2="319.50" y2="291.5" stroke="#ababab" stroke-width="0.8" stroke-dasharray="0.9 2.1"/>
<line x1="340.50" y1="176.4" x2="340.50" y2="291.5" stroke="#ababab" stroke-width="0.8" stroke-dasharray="0.9 2.1"/>
<line x1="361.50" y1="176.4" x2="361.50" y2="291.5" stroke="#ababab" stroke-width="0.8" stroke-dasharray="0.9 2.1"/>
<line x1="382.50" y1="176.4" x2="382.50" y2="291.5" stroke="#ababab" stroke-width="0.8" stroke-dasharray="0.9 2.1"/>
<line x1="403.50" y1="176.4" x2="403.50" y2="291.5" stroke="#ababab" stroke-width="0.8" stroke-dasharray="0.9 2.1"/>
<line x1="424.50" y1="176.4" x2="424.50" y2="291.5" stroke="#ababab" stroke-width="0.8" stroke-dasharray="0.9 2.1"/>
<line x1="445.50" y1="176.4" x2="445.50" y2="291.5" stroke="#ababab" stroke-width="0.8" stroke-dasharray="0.9 2.1"/>
<line x1="466.50" y1="176.4" x2="466.50" y2="291.5" stroke="#ababab" stroke-width="0.8" stroke-dasharray="0.9 2.1"/>
<line x1="487.50" y1="176.4" x2="487.50" y2="291.5" stroke="#ababab" stroke-width="0.8" stroke-dasharray="0.9 2.1"/>
<path d="M46.75,291.82L46.95,289.93L47.15,283.87L47.35,276.31L47.55,273.93L47.75,267.20L47.95,268.31L48.15,265.12L48.35,264.66L48.55,259.74L48.75,257.15L48.95,259.50L49.15,259.92L49.35,256.82L49.55,257.35L49.75,254.78L49.95,256.00L50.15,255.11L50.35,252.65L50.55,255.49L50.75,255.64L50.95,250.99L51.15,252.32L51.35,250.30L51.55,249.65L51.75,250.50L51.95,254.35L52.15,251.66L52.35,262.84L52.55,261.63L52.75,265.27L52.95,260.38L53.15,268.28L53.35,270.45L53.55,271.13L53.75,269.60L53.95,269.26L54.15,270.73L54.35,269.23L54.55,271.17L54.75,267.92L54.95,271.45L55.15,278.14L55.35,274.83L55.55,276.09L55.75,268.93L55.95,264.29L56.15,260.45L56.35,256.73L56.55,250.41L56.75,251.45L56.95,247.37L57.15,246.55L57.35,245.29L57.55,247.98L57.75,254.71L57.95,252.70L58.15,251.43L58.35,252.82L58.55,257.58L58.75,253.89L58.95,256.49L59.15,258.15L59.35,263.17L59.55,262.56L59.75,264.34L59.95,272.18L60.15,270.50L60.35,271.03L60.55,268.66L60.75,260.92L60.95,256.27L61.15,255.27L61.35,258.66L61.55,259.19L61.75,255.21L61.95,258.67L62.15,258.55L62.35,260.26L62.55,257.67L62.75,257.97L62.95,256.40L63.15,256.49L63.35,251.57L63.55,253.46L63.75,253.47L63.95,253.51L64.15,261.25L64.35,271.00L64.55,268.86L64.75,260.79L64.95,260.53L65.15,259.80L65.35,259.35L65.55,253.87L65.75,253.41L65.95,251.26L66.15,250.25L66.35,249.35L66.55,250.33L66.75,255.45L66.95,253.27L67.15,259.04L67.35,259.89L67.55,261.89L67.75,264.63L67.95,262.47L68.15,254.64L68.35,255.75L68.55,250.88L68.75,258.38L68.95,266.92L69.15,268.39L69.35,265.70L69.55,269.04L69.75,274.11L69.95,276.36L70.15,274.34L70.35,277.09L70.55,279.82L70.75,277.73L70.95,281.36L71.15,283.74L71.35,284.33L71.55,285.10L71.75,274.44L71.95,278.86L72.15,274.93L72.35,277.92L72.55,277.59L72.75,277.19L72.95,278.13L73.15,282.81L73.35,280.82L73.55,279.45L73.75,277.66L73.95,283.82L74.15,281.70L74.35,280.78L74.55,278.79L74.75,280.83L74.95,282.55L75.15,277.59L75.35,280.70L75.55,280.93L75.75,274.27L75.95,284.22L76.15,280.40L76.35,282.35L76.55,275.94L76.75,281.07L76.95,278.04L77.15,277.16L77.35,278.27L77.55,277.25L77.75,278.55L77.95,280.02L78.15,281.34L78.35,279.75L78.55,281.80L78.75,284.30L78.95,283.88L79.15,278.78L79.35,286.46L79.55,284.36L79.75,283.90L79.95,282.22L80.15,279.84L80.35,282.80L80.55,280.02L80.75,279.06L80.95,275.89L81.15,280.50L81.35,280.32L81.55,277.09L81.75,279.01L81.95,280.40L82.15,279.91L82.35,276.37L82.55,283.35L82.75,280.32L82.95,276.12L83.15,279.40L83.35,282.19L83.55,281.99L83.75,278.14L83.95,279.22L84.15,280.99L84.35,281.20L84.55,282.60L84.75,282.45L84.95,278.32L85.15,277.80L85.35,279.90L85.55,276.90L85.75,279.87L85.95,277.69L86.15,283.63L86.35,277.37L86.55,275.38L86.75,278.09L86.95,280.54L87.15,279.71L87.35,281.05L87.55,281.28L87.75,282.04L87.95,280.99L88.15,282.31L88.35,281.13L88.55,281.55L88.75,278.14L88.95,276.19L89.15,276.95L89.35,277.06L89.55,274.36L89.75,279.69L89.95,273.39L90.15,283.24L90.35,277.50L90.55,279.30L90.75,279.16L90.95,284.09L91.15,278.00L91.34,280.16L91.54,280.62L91.74,278.47L91.94,280.69L92.14,280.85L92.34,279.15L92.54,281.42L92.74,280.51L92.94,282.30L93.14,282.83L93.34,281.52L93.54,283.05L93.74,281.13L93.94,282.39L94.14,283.18L94.34,282.23L94.54,284.90L94.74,280.48L94.94,280.81L95.14,287.65L95.34,282.22L95.54,283.36L95.74,281.08L95.94,277.63L96.14,283.51L96.34,282.77L96.54,284.48L96.74,281.80L96.94,280.99L97.14,282.06L97.34,282.45L97.54,285.22L97.74,282.96L97.94,284.99L98.14,283.69L98.34,279.31L98.54,282.74L98.74,284.73L98.94,285.52L99.14,284.65L99.34,279.63L99.54,271.06L99.74,273.78L99.94,274.75L100.14,279.06L100.34,280.18L100.54,279.33L100.74,280.05L100.94,282.91L101.14,284.48L101.34,281.16L101.54,277.59L101.74,276.35L101.94,279.91L102.14,283.20L102.34,281.80L102.54,284.38L102.74,285.48L102.94,285.32L103.14,285.26L103.34,285.84L103.54,285.17L103.74,283.46L103.94,283.35L104.14,288.97L104.34,280.37L104.54,282.75L104.74,285.42L104.94,280.80L105.14,285.85L105.34,284.50L105.54,283.77L105.74,283.89L105.94,283.98L106.14,288.54L106.34,287.06L106.54,284.07L106.74,282.13L106.94,283.93L107.14,286.57L107.34,286.73L107.54,286.59L107.74,281.27L107.94,286.16L108.14,282.06L108.34,286.59L108.54,286.20L108.74,285.34L108.94,280.85L109.14,285.50L109.34,284.32L109.54,285.29L109.74,285.09L109.94,281.60L110.14,285.29L110.34,284.28L110.54,286.55L110.74,285.30L110.94,283.32L111.14,280.08L111.34,279.19L111.54,286.24L111.74,283.84L111.94,287.56L112.14,283.94L112.34,283.02L112.54,281.60L112.74,281.84L112.94,285.32L113.14,285.71L113.34,286.26L113.54,278.97L113.74,285.64L113.94,280.37L114.14,281.93L114.34,280.32L114.54,286.25L114.74,281.38L114.94,281.34L115.14,282.30L115.34,281.20L115.54,284.99L115.74,278.97L115.94,284.95L116.14,282.72L116.34,280.35L116.54,281.15L116.74,278.74L116.94,282.50L117.14,285.03L117.34,281.61L117.54,281.28L117.74,286.34L117.94,280.39L118.14,279.62L118.34,284.48L118.54,280.42L118.74,282.40L118.94,280.30L119.14,283.86L119.34,280.65L119.54,281.05L119.74,282.48L119.94,283.42L120.14,283.01L120.34,280.99L120.54,279.20L120.74,282.92L120.94,280.49L121.14,282.32L121.34,278.01L121.54,279.65L121.74,280.64L121.94,281.45L122.14,283.67L122.34,286.16L122.54,280.43L122.74,284.06L122.94,283.89L123.14,279.84L123.34,281.60L123.54,284.24L123.74,276.19L123.94,276.93L124.14,274.71L124.34,281.93L124.54,285.10L124.74,283.74L124.94,280.52L125.14,287.25L125.34,285.11L125.54,280.33L125.74,276.75L125.94,283.30L126.14,285.06L126.34,283.97L126.54,284.80L126.74,279.41L126.94,281.38L127.14,285.29L127.34,281.24L127.54,288.44L127.74,283.27L127.94,283.43L128.14,283.82L128.34,285.23L128.54,284.20L128.74,286.90L128.94,281.12L129.14,284.25L129.34,280.28L129.54,279.40L129.74,282.10L129.94,279.89L130.14,273.44L130.34,268.56L130.54,269.90L130.74,263.44L130.94,262.28L131.14,252.95L131.34,257.63L131.54,266.84L131.74,268.79L131.94,271.74L132.14,275.19L132.34,274.96L132.54,275.32L132.74,276.93L132.94,279.52L133.14,276.25L133.34,277.15L133.54,278.97L133.74,277.52L133.94,277.76L134.14,278.56L134.34,275.47L134.54,276.30L134.74,278.99L134.94,282.11L135.14,287.41L135.34,279.14L135.54,267.69L135.74,268.85L135.94,257.89L136.14,256.67L136.34,259.70L136.54,260.53L136.74,259.65L136.94,262.75L137.14,263.84L137.34,261.23L137.54,262.42L137.74,256.55L137.94,262.93L138.14,260.22L138.34,259.25L138.54,258.93L138.74,261.64L138.94,256.25L139.14,259.98L139.34,266.67L139.54,263.15L139.74,262.89L139.94,263.11L140.14,266.37L140.34,270.60L140.54,265.52L140.74,268.07L140.94,262.20L141.14,262.77L141.34,254.21L141.54,253.67L141.74,249.75L141.94,255.09L142.14,254.15L142.34,254.56L142.54,250.22L142.74,256.63L142.94,260.04L143.14,270.21L143.34,272.73L143.54,268.30L143.74,265.20L143.94,258.79L144.14,260.60L144.34,259.19L144.54,258.98L144.74,255.73L144.94,259.69L145.14,258.62L145.34,258.02L145.54,257.77L145.74,250.49L145.94,244.54L146.14,245.48L146.34,244.50L146.54,246.47L146.74,246.06L146.94,243.94L147.14,253.27L147.34,251.35L147.54,253.63L147.74,250.34L147.94,251.61L148.14,252.79L148.34,250.23L148.54,248.54L148.74,251.91L148.94,253.13L149.14,259.26L149.34,260.69L149.54,260.50L149.74,260.38L149.94,257.64L150.14,258.00L150.34,255.50L150.54,255.07L150.74,250.30L150.94,255.14L151.14,252.45L151.34,252.04L151.54,253.25L151.74,256.15L151.94,256.95L152.14,262.16L152.34,262.59L152.54,262.28L152.74,268.32L152.94,262.28L153.14,260.09L153.34,256.77L153.54,261.18L153.74,253.05L153.94,254.93L154.14,255.20L154.34,257.61L154.54,261.55L154.74,260.25L154.94,263.33L155.14,266.17L155.34,267.69L155.54,268.61L155.74,268.86L155.94,273.28L156.14,269.64L156.34,274.72L156.54,270.90L156.74,269.37L156.94,267.28L157.14,263.82L157.34,261.45L157.54,257.04L157.74,260.31L157.94,260.73L158.14,258.22L158.34,259.30L158.54,252.88L158.74,261.35L158.94,258.12L159.14,258.33L159.34,261.49L159.54,263.28L159.74,270.21L159.94,270.74L160.14,270.18L160.34,268.88L160.54,268.80L160.74,266.83L160.94,273.47L161.14,270.00L161.34,265.32L161.54,266.30L161.74,267.58L161.94,264.86L162.14,266.23L162.34,261.28L162.54,264.53L162.74,260.07L162.94,260.22L163.14,261.44L163.34,258.19L163.54,257.72L163.74,257.89L163.94,255.14L164.14,256.02L164.34,251.32L164.54,251.15L164.74,247.84L164.94,245.89L165.14,243.97L165.34,243.88L165.54,241.69L165.74,241.52L165.94,242.60L166.14,242.28L166.34,243.01L166.54,243.47L166.74,243.90L166.94,242.92L167.14,243.43L167.34,239.89L167.54,240.59L167.74,239.88L167.94,239.68L168.14,242.03L168.34,240.46L168.54,245.31L168.74,244.19L168.94,243.82L169.14,241.06L169.34,241.21L169.54,240.93L169.74,240.35L169.94,241.57L170.14,240.30L170.34,241.13L170.54,240.57L170.74,243.01L170.94,242.16L171.14,242.93L171.34,242.02L171.54,243.50L171.74,241.68L171.94,241.08L172.14,240.66L172.34,239.83L172.54,241.96L172.74,241.15L172.94,242.71L173.14,242.10L173.34,245.54L173.54,243.80L173.74,244.70L173.94,241.71L174.14,240.82L174.34,238.31L174.54,237.68L174.74,237.42L174.94,238.57L175.14,241.93L175.34,240.93L175.54,244.45L175.74,240.71L175.94,241.56L176.14,241.77L176.34,242.06L176.54,239.74L176.74,240.76L176.94,244.10L177.14,241.72L177.34,243.33L177.54,248.25L177.74,248.26L177.94,244.71L178.14,246.06L178.34,246.90L178.54,247.81L178.74,246.04L178.94,241.53L179.14,246.46L179.34,242.34L179.54,239.90L179.74,243.57L179.94,245.46L180.13,243.66L180.33,243.84L180.53,243.83L180.73,243.93L180.93,245.23L181.13,241.43L181.33,240.38L181.53,240.14L181.73,240.26L181.93,241.51L182.13,241.16L182.33,238.08L182.53,244.73L182.73,244.23L182.93,246.09L183.13,246.25L183.33,242.93L183.53,240.34L183.73,242.69L183.93,241.32L184.13,240.25L184.33,239.87L184.53,238.48L184.73,235.61L184.93,234.80L185.13,233.38L185.33,233.44L185.53,231.11L185.73,230.05L185.93,231.60L186.13,231.50L186.33,229.25L186.53,228.61L186.73,227.70L186.93,229.01L187.13,228.16L187.33,228.96L187.53,227.13L187.73,227.85L187.93,227.78L188.13,225.86L188.33,225.70L188.53,226.87L188.73,225.75L188.93,223.36L189.13,226.05L189.33,224.55L189.53,223.00L189.73,223.13L189.93,224.13L190.13,224.72L190.33,224.00L190.53,224.64L190.73,224.02L190.93,223.58L191.13,224.25L191.33,223.97L191.53,224.30L191.73,226.03L191.93,226.06L192.13,226.91L192.33,226.32L192.53,227.27L192.73,226.39L192.93,226.75L193.13,224.68L193.33,225.15L193.53,223.39L193.73,223.30L193.93,223.08L194.13,223.54L194.33,223.98L194.53,223.60L194.73,222.84L194.93,222.85L195.13,222.85L195.33,222.66L195.53,221.72L195.73,221.80L195.93,223.22L196.13,221.84L196.33,222.62L196.53,221.72L196.73,221.53L196.93,220.89L197.13,220.78L197.33,221.80L197.53,220.94L197.73,220.41L197.93,220.61L198.13,219.30L198.33,220.99L198.53,219.83L198.73,220.10L198.93,220.56L199.13,220.38L199.33,220.52L199.53,220.22L199.73,220.81L199.93,220.70L200.13,218.95L200.33,220.88L200.53,220.28L200.73,219.97L200.93,221.06L201.13,219.87L201.33,220.62L201.53,221.68L201.73,219.95L201.93,221.71L202.13,219.75L202.33,219.09L202.53,218.28L202.73,218.85L202.93,218.45L203.13,218.61L203.33,219.04L203.53,218.43L203.73,219.36L203.93,218.99L204.13,219.65L204.33,219.42L204.53,219.05L204.73,220.52L204.93,219.77L205.13,220.02L205.33,219.50L205.53,218.21L205.73,219.72L205.93,218.97L206.13,218.77L206.33,218.75L206.53,218.46L206.73,217.10L206.93,217.55L207.13,217.57L207.33,217.57L207.53,217.06L207.73,215.68L207.93,216.56L208.13,216.94L208.33,216.07L208.53,215.22L208.73,214.77L208.93,214.78L209.13,214.02L209.33,215.10L209.53,214.68L209.73,214.04L209.93,213.55L210.13,214.66L210.33,213.22L210.53,213.93L210.73,212.14L210.93,212.36L211.13,211.26L211.33,210.90L211.53,211.62L211.73,211.92L211.93,212.20L212.13,211.73L212.33,210.49L212.53,210.71L212.73,210.81L212.93,212.09L213.13,211.78L213.33,210.90L213.53,212.55L213.73,211.96L213.93,214.67L214.13,212.67L214.33,214.58L214.53,215.11L214.73,214.17L214.93,214.16L215.13,212.34L215.33,213.25L215.53,212.92L215.73,212.92L215.93,211.71L216.13,211.15L216.33,211.05L216.53,212.28L216.73,211.19L216.93,210.55L217.13,212.05L217.33,210.81L217.53,210.05L217.73,209.63L217.93,210.18L218.13,209.88L218.33,209.78L218.53,210.02L218.73,211.35L218.93,208.93L219.13,209.56L219.33,209.98L219.53,210.36L219.73,208.30L219.93,209.71L220.13,209.67L220.33,210.79L220.53,210.69L220.73,211.16L220.93,210.78L221.13,212.80L221.33,210.55L221.53,211.73L221.73,211.32L221.93,211.23L222.13,212.25L222.33,211.47L222.53,212.77L222.73,211.96L222.93,212.50L223.13,211.14L223.33,210.69L223.53,212.17L223.73,211.03L223.93,211.49L224.13,211.72L224.33,210.69L224.53,209.80L224.73,209.53L224.93,210.39L225.13,210.02L225.33,208.74L225.53,209.48L225.73,208.12L225.93,207.86L226.13,208.51L226.33,209.16L226.53,208.66L226.73,207.75L226.93,208.20L227.13,207.78L227.33,207.31L227.53,208.33L227.73,207.40L227.93,207.13L228.13,207.19L228.33,206.25L228.53,206.41L228.73,206.21L228.93,204.79L229.13,204.53L229.33,205.35L229.53,205.32L229.73,205.72L229.93,205.64L230.13,203.41L230.33,204.33L230.53,204.84L230.73,205.11L230.93,203.45L231.13,204.37L231.33,203.76L231.53,203.50L231.73,204.57L231.93,204.90L232.13,204.04L232.33,203.60L232.53,204.03L232.73,203.92L232.93,203.55L233.13,204.40L233.33,203.41L233.53,203.28L233.73,204.65L233.93,204.50L234.13,204.28L234.33,204.47L234.53,204.29L234.73,203.47L234.93,205.07L235.13,203.99L235.33,204.54L235.53,204.77L235.73,205.25L235.93,205.71L236.13,204.35L236.33,203.46L236.53,204.88L236.73,203.82L236.93,205.00L237.13,203.89L237.33,204.32L237.53,204.33L237.73,204.95L237.93,204.35L238.13,204.25L238.33,203.09L238.53,203.48L238.73,203.56L238.93,204.20L239.13,203.50L239.33,202.96L239.53,202.40L239.73,202.45L239.93,201.65L240.13,202.75L240.33,202.99L240.53,201.40L240.73,200.89L240.93,201.45L241.13,202.01L241.33,201.94L241.53,202.22L241.73,202.24L241.93,202.02L242.13,201.77L242.33,202.75L242.53,201.71L242.73,201.92L242.93,202.15L243.13,201.84L243.33,202.26L243.53,201.84L243.73,201.11L243.93,202.40L244.13,201.70L244.33,202.68L244.53,202.55L244.73,202.34L244.93,202.97L245.13,202.03L245.33,203.72L245.53,202.99L245.73,202.96L245.93,202.99L246.13,203.19L246.33,203.32L246.53,202.28L246.73,201.04L246.93,201.13L247.13,201.22L247.33,201.53L247.53,200.93L247.73,199.47L247.93,199.91L248.13,199.38L248.33,197.33L248.53,199.93L248.73,197.64L248.93,199.51L249.13,198.68L249.33,195.95L249.53,196.73L249.73,196.87L249.93,196.52L250.13,196.27L250.33,197.00L250.53,197.30L250.73,196.75L250.93,195.85L251.13,195.67L251.33,195.21L251.53,195.79L251.73,195.19L251.93,195.57L252.13,196.16L252.33,195.69L252.53,195.04L252.73,195.22L252.93,195.40L253.13,194.97L253.33,193.98L253.53,195.20L253.73,196.22L253.93,194.51L254.13,195.93L254.33,193.39L254.53,194.67L254.73,194.15L254.93,194.25L255.13,193.92L255.33,193.77L255.53,193.12L255.73,194.48L255.93,193.97L256.13,193.91L256.33,193.70L256.53,193.09L256.73,194.63L256.93,194.68L257.13,193.22L257.33,192.89L257.53,192.74L257.73,192.56L257.93,192.25L258.13,193.93L258.33,193.61L258.53,193.33L258.73,193.20L258.93,193.34L259.13,193.52L259.33,194.43L259.53,192.41L259.73,193.97L259.93,193.77L260.13,194.74L260.33,193.98L260.53,194.47L260.73,193.33L260.93,193.25L261.13,194.01L261.33,193.40L261.53,193.18L261.73,192.84L261.93,191.94L262.13,193.12L262.33,190.70L262.53,192.78L262.73,192.93L262.93,191.40L263.13,192.60L263.33,190.89L263.53,191.42L263.73,191.82L263.93,191.03L264.13,191.37L264.33,191.87L264.53,191.59L264.73,190.01L264.93,191.07L265.13,190.91L265.33,191.70L265.53,189.65L265.73,190.52L265.93,191.05L266.13,190.79L266.33,191.07L266.53,189.80L266.73,189.92L266.93,190.82L267.13,190.48L267.33,190.40L267.53,189.88L267.73,188.42L267.93,189.89L268.13,189.34L268.33,189.69L268.53,189.45L268.73,188.93L268.93,188.34L269.12,189.65L269.32,189.21L269.52,188.80L269.72,189.14L269.92,187.42L270.12,187.80L270.32,187.47L270.52,187.84L270.72,188.77L270.92,187.37L271.12,187.96L271.32,188.24L271.52,188.28L271.72,188.42L271.92,187.90L272.12,187.42L272.32,186.69L272.52,187.80L272.72,186.83L272.92,187.00L273.12,186.55L273.32,186.88L273.52,187.55L273.72,185.81L273.92,185.94L274.12,186.99L274.32,186.02L274.52,186.02L274.72,184.23L274.92,184.55L275.12,185.29L275.32,185.35L275.52,184.56L275.72,184.71L275.92,184.28L276.12,184.70L276.32,185.04L276.52,185.48L276.72,184.94L276.92,184.94L277.12,183.71L277.32,183.20L277.52,182.43L277.72,183.29L277.92,181.97L278.12,182.21L278.32,183.27L278.52,183.48L278.72,182.87L278.92,183.27L279.12,183.14L279.32,182.78L279.52,182.37L279.72,183.89L279.92,182.48L280.12,182.45L280.32,181.87L280.52,182.92L280.72,181.86L280.92,182.78L281.12,182.65L281.32,182.53L281.52,181.79L281.72,182.07L281.92,181.03L282.12,181.48L282.32,181.87L282.52,181.04L282.72,180.57L282.92,181.53L283.12,180.36L283.32,181.32L283.52,181.19L283.72,182.07L283.92,180.72L284.12,180.70L284.32,181.12L284.52,180.61L284.72,179.88L284.92,180.06L285.12,181.70L285.32,181.26L285.52,180.20L285.72,180.44L285.92,180.21L286.12,181.84L286.32,180.25L286.52,180.28L286.72,180.89L286.92,179.42L287.12,179.83L287.32,179.55L287.52,179.07L287.72,180.20L287.92,179.73L288.12,180.11L288.32,179.52L288.52,179.75L288.72,181.16L288.92,181.11L289.12,181.43L289.32,180.76L289.52,181.78L289.72,181.81L289.92,180.46L290.12,182.04L290.32,181.51L290.52,183.65L290.72,182.18L290.92,183.96L291.12,182.55L291.32,183.70L291.52,183.88L291.72,185.22L291.92,184.78L292.12,185.74L292.32,185.22L292.52,186.50L292.72,186.78L292.92,187.51L293.12,187.60L293.32,187.22L293.52,188.26L293.72,188.24L293.92,190.52L294.12,188.58L294.32,190.40L294.52,191.14L294.72,190.18L294.92,191.84L295.12,189.93L295.32,191.39L295.52,191.78L295.72,191.59L295.92,192.61L296.12,192.91L296.32,193.29L296.52,192.61L296.72,193.91L296.92,195.15L297.12,195.22L297.32,196.92L297.52,195.38L297.72,197.39L297.92,197.38L298.12,197.57L298.32,197.68L298.52,198.84L298.72,199.23L298.92,199.95L299.12,201.84L299.32,201.33L299.52,201.25L299.72,201.72L299.92,203.56L300.12,204.52L300.32,204.48L300.52,206.61L300.72,206.69L300.92,209.38L301.12,209.76L301.32,211.37L301.52,212.40L301.72,212.86L301.92,214.08L302.12,214.97L302.32,215.70L302.52,215.04L302.72,216.53L302.92,217.80L303.12,219.45L303.32,218.05L303.52,219.41L303.72,220.58L303.92,219.49L304.12,220.53L304.32,220.15L304.52,219.93L304.72,220.20L304.92,220.40L305.12,219.74L305.32,216.77L305.52,220.06L305.72,220.11L305.92,219.67L306.12,220.46L306.32,219.94L306.52,220.89L306.72,220.00L306.92,220.59L307.12,222.27L307.32,227.31L307.52,231.10L307.72,230.90L307.92,231.69L308.12,225.54L308.32,223.20L308.52,221.26L308.72,220.91L308.92,222.46L309.12,221.44L309.32,222.34L309.52,225.35L309.72,223.22L309.92,227.03L310.12,224.91L310.32,223.28L310.52,224.04L310.72,227.14L310.92,223.53L311.12,223.11L311.32,225.05L311.52,225.07L311.72,223.10L311.92,225.54L312.12,228.58L312.32,227.19L312.52,227.44L312.72,227.03L312.92,225.86L313.12,227.77L313.32,227.32L313.52,230.82L313.72,230.28L313.92,229.06L314.12,228.82L314.32,226.47L314.52,227.55L314.72,231.36L314.92,228.70L315.12,231.03L315.32,231.05L315.52,231.15L315.72,232.00L315.92,232.39L316.12,234.12L316.32,233.02L316.52,235.30L316.72,235.54L316.92,236.33L317.12,235.55L317.32,236.99L317.52,237.27L317.72,235.13L317.92,235.77L318.12,236.12L318.32,237.07L318.52,239.06L318.72,240.28L318.92,237.62L319.12,239.65L319.32,239.52L319.52,240.62L319.72,238.97L319.92,240.97L320.12,237.62L320.32,241.17L320.52,237.39L320.72,235.36L320.92,236.03L321.12,235.41L321.32,236.05L321.52,233.03L321.72,233.46L321.92,232.01L322.12,232.80L322.32,234.61L322.52,235.72L322.72,234.66L322.92,235.42L323.12,236.69L323.32,236.93L323.52,238.35L323.72,236.85L323.92,235.31L324.12,235.34L324.32,238.40L324.52,234.03L324.72,234.53L324.92,234.32L325.12,234.36L325.32,233.13L325.52,238.49L325.72,237.61L325.92,234.53L326.12,238.38L326.32,236.01L326.52,237.35L326.72,241.33L326.92,241.39L327.12,240.83L327.32,240.64L327.52,243.09L327.72,242.37L327.92,242.91L328.12,239.23L328.32,244.15L328.52,241.16L328.72,240.35L328.92,241.21L329.12,242.46L329.32,241.43L329.52,243.14L329.72,243.77L329.92,239.98L330.12,240.36L330.32,244.10L330.52,243.15L330.72,241.14L330.92,242.87L331.12,243.18L331.32,242.79L331.52,244.84L331.72,242.09L331.92,243.36L332.12,242.49L332.32,244.00L332.52,241.99L332.72,242.31L332.92,242.36L333.12,240.51L333.32,244.59L333.52,241.50L333.72,243.90L333.92,243.07L334.12,239.10L334.32,241.33L334.52,241.29L334.72,245.04L334.92,244.79L335.12,242.70L335.32,243.52L335.52,243.00L335.72,244.56L335.92,244.24L336.12,243.67L336.32,243.92L336.52,245.27L336.72,241.72L336.92,243.07L337.12,242.20L337.32,241.85L337.52,240.26L337.72,240.81L337.92,241.22L338.12,238.45L338.32,236.28L338.52,237.40L338.72,234.08L338.92,235.53L339.12,234.56L339.32,232.25L339.52,232.86L339.72,228.99L339.92,234.78L340.12,233.25L340.32,232.10L340.52,234.12L340.72,235.43L340.92,234.23L341.12,235.62L341.32,236.29L341.52,237.16L341.72,236.55L341.92,238.10L342.12,239.42L342.32,241.51L342.52,242.63L342.72,244.95L342.92,244.04L343.12,245.22L343.32,245.72L343.52,244.90L343.72,244.19L343.92,244.07L344.12,244.97L344.32,243.64L344.52,243.40L344.72,247.12L344.92,246.03L345.12,243.74L345.32,244.38L345.52,243.88L345.72,243.25L345.92,246.24L346.12,244.53L346.32,243.45L346.52,246.36L346.72,242.84L346.92,247.65L347.12,245.33L347.32,241.62L347.52,245.21L347.72,244.53L347.92,244.17L348.12,245.00L348.32,243.49L348.52,244.63L348.72,245.91L348.92,241.83L349.12,244.61L349.32,246.93L349.52,248.80L349.72,246.94L349.92,246.02L350.12,248.92L350.32,248.41L350.52,248.46L350.72,249.02L350.92,247.76L351.12,252.59L351.32,252.43L351.52,248.99L351.72,254.63L351.92,253.02L352.12,252.38L352.32,250.41L352.52,251.88L352.72,248.87L352.92,246.78L353.12,247.69L353.32,245.60L353.52,246.69L353.72,243.39L353.92,245.47L354.12,246.31L354.32,246.52L354.52,248.94L354.72,249.64L354.92,247.83L355.12,248.73L355.32,249.56L355.52,252.00L355.72,249.81L355.92,250.83L356.12,252.46L356.32,249.23L356.52,247.75L356.72,250.88L356.92,252.28L357.12,254.65L357.32,250.22L357.52,251.51L357.72,250.72L357.91,249.41L358.11,253.21L358.31,252.46L358.51,250.66L358.71,254.41L358.91,251.73L359.11,253.39L359.31,253.72L359.51,252.36L359.71,251.11L359.91,251.63L360.11,250.75L360.31,249.73L360.51,249.12L360.71,250.21L360.91,248.97L361.11,251.42L361.31,249.47L361.51,248.28L361.71,247.03L361.91,246.15L362.11,246.58L362.31,245.50L362.51,245.87L362.71,246.28L362.91,249.20L363.11,249.79L363.31,250.43L363.51,250.33L363.71,254.26L363.91,253.63L364.11,255.76L364.31,254.89L364.51,254.47L364.71,251.35L364.91,251.84L365.11,250.93L365.31,251.62L365.51,249.94L365.71,246.67L365.91,250.94L366.11,249.88L366.31,246.47L366.51,248.60L366.71,246.72L366.91,246.19L367.11,249.60L367.31,248.89L367.51,249.47L367.71,249.86L367.91,250.52L368.11,252.33L368.31,253.03L368.51,253.74L368.71,254.12L368.91,253.81L369.11,256.53L369.31,260.16L369.51,256.12L369.71,256.68L369.91,252.81L370.11,257.11L370.31,254.32L370.51,253.50L370.71,255.16L370.91,253.56L371.11,254.19L371.31,251.13L371.51,251.05L371.71,249.67L371.91,248.54L372.11,247.95L372.31,245.87L372.51,246.04L372.71,247.05L372.91,247.31L373.11,245.28L373.31,247.64L373.51,246.04L373.71,245.00L373.91,246.35L374.11,245.79L374.31,250.40L374.51,251.35L374.71,251.09L374.91,250.61L375.11,254.11L375.31,251.03L375.51,252.24L375.71,250.14L375.91,252.48L376.11,253.33L376.31,253.59L376.51,253.33L376.71,253.39L376.91,255.03L377.11,252.20L377.31,253.31L377.51,250.47L377.71,250.92L377.91,252.63L378.11,252.10L378.31,251.04L378.51,250.23L378.71,250.69L378.91,251.27L379.11,252.72L379.31,251.98L379.51,254.87L379.71,252.81L379.91,253.94L380.11,254.52L380.31,254.92L380.51,256.33L380.71,256.45L380.91,254.60L381.11,257.83L381.31,259.52L381.51,257.45L381.71,258.03L381.91,257.52L382.11,254.08L382.31,255.31L382.51,254.00L382.71,254.26L382.91,252.03L383.11,253.17L383.31,255.98L383.51,251.39L383.71,254.24L383.91,253.84L384.11,252.05L384.31,253.92L384.51,255.60L384.71,256.90L384.91,258.11L385.11,257.42L385.31,259.81L385.51,258.47L385.71,256.78L385.91,257.36L386.11,258.64L386.31,256.38L386.51,254.99L386.71,257.47L386.91,256.77L387.11,259.08L387.31,256.85L387.51,261.87L387.71,260.85L387.91,259.57L388.11,258.17L388.31,258.25L388.51,254.48L388.71,254.09L388.91,250.47L389.11,252.00L389.31,251.55L389.51,255.51L389.71,253.54L389.91,254.23L390.11,256.30L390.31,258.55L390.51,254.99L390.71,254.81L390.91,257.78L391.11,256.04L391.31,256.60L391.51,258.57L391.71,258.97L391.91,254.52L392.11,257.38L392.31,257.32L392.51,257.98L392.71,259.14L392.91,256.44L393.11,256.66L393.31,255.63L393.51,255.76L393.71,257.83L393.91,256.00L394.11,255.57L394.31,256.65L394.51,256.12L394.71,256.41L394.91,257.32L395.11,258.14L395.31,255.57L395.51,257.83L395.71,257.78L395.91,257.27L396.11,257.41L396.31,260.14L396.51,257.80L396.71,256.58L396.91,255.99L397.11,256.36L397.31,257.72L397.51,256.89L397.71,256.60L397.91,257.75L398.11,254.84L398.31,258.51L398.51,259.29L398.71,258.74L398.91,258.34L399.11,250.84L399.31,251.14L399.51,247.49L399.71,248.98L399.91,247.95L400.11,245.14L400.31,246.28L400.51,248.66L400.71,247.60L400.91,249.40L401.11,251.26L401.31,253.78L401.51,251.92L401.71,252.43L401.91,250.05L402.11,247.80L402.31,251.96L402.51,245.83L402.71,246.58L402.91,247.57L403.11,251.76L403.31,252.16L403.51,253.00L403.71,252.99L403.91,249.85L404.11,247.78L404.31,246.64L404.51,249.15L404.71,246.97L404.91,248.27L405.11,249.40L405.31,252.88L405.51,249.51L405.71,255.76L405.91,255.65L406.11,252.60L406.31,255.25L406.51,257.41L406.71,257.99L406.91,256.72L407.11,259.26L407.31,257.87L407.51,256.30L407.71,254.55L407.91,252.08L408.11,252.21L408.31,251.49L408.51,249.88L408.71,245.72L408.91,244.93L409.11,240.89L409.31,244.63L409.51,241.33L409.71,244.01L409.91,244.04L410.11,246.97L410.31,244.64L410.51,242.76L410.71,246.89L410.91,243.10L411.11,243.83L411.31,243.76L411.51,246.50L411.71,242.93L411.91,246.80L412.11,243.12L412.31,245.41L412.51,251.21L412.71,248.37L412.91,249.67L413.11,254.04L413.31,257.82L413.51,257.53L413.71,256.54L413.91,253.84L414.11,255.28L414.31,254.12L414.51,251.41L414.71,250.19L414.91,252.65L415.11,249.04L415.31,249.95L415.51,249.32L415.71,247.33L415.91,246.79L416.11,247.91L416.31,246.99L416.51,249.94L416.71,251.13L416.91,251.51L417.11,250.62L417.31,249.35L417.51,247.36L417.71,243.91L417.91,245.07L418.11,239.17L418.31,240.33L418.51,242.71L418.71,245.26L418.91,246.31L419.11,247.93L419.31,245.20L419.51,246.77L419.71,249.26L419.91,248.11L420.11,252.16L420.31,250.64L420.51,252.34L420.71,253.95L420.91,254.79L421.11,253.01L421.31,249.34L421.51,245.87L421.71,247.98L421.91,249.92L422.11,252.84L422.31,261.83L422.51,259.06L422.71,263.68L422.91,264.92L423.11,264.07L423.31,265.42L423.51,267.63L423.71,267.60L423.91,268.33L424.11,271.66L424.31,268.58L424.51,270.86L424.71,272.16L424.91,278.77L425.11,274.60L425.31,270.78L425.51,270.55L425.71,272.81L425.91,266.32L426.11,261.18L426.31,264.43L426.51,268.02L426.71,271.57L426.91,267.72L427.11,269.85L427.31,272.87L427.51,271.88L427.71,268.38L427.91,269.45L428.11,269.73L428.31,269.84L428.51,267.18L428.71,268.00L428.91,269.45L429.11,259.71L429.31,273.03L429.51,274.99L429.71,273.71L429.91,269.26L430.11,265.80L430.31,272.85L430.51,269.50L430.71,265.90L430.91,267.92L431.11,264.81L431.31,266.65L431.51,263.14L431.71,265.14L431.91,261.47L432.11,267.94L432.31,262.33L432.51,265.42L432.71,261.94L432.91,267.72L433.11,266.62L433.31,268.11L433.51,271.82L433.71,276.81L433.91,277.91L434.11,276.62L434.31,275.03L434.51,271.42L434.71,275.27L434.91,272.05L435.11,270.71L435.31,269.84L435.51,270.93L435.71,265.20L435.91,269.79L436.11,273.00L436.31,273.04L436.51,271.86L436.71,274.76L436.91,274.96L437.11,276.24L437.31,278.12L437.51,280.13L437.71,278.71L437.91,276.71L438.11,280.01L438.31,276.74L438.51,277.83L438.71,273.21L438.91,278.87L439.11,268.18L439.31,270.19L439.51,271.48L439.71,268.94L439.91,264.36L440.11,266.39L440.31,270.00L440.51,271.96L440.71,275.32L440.91,272.84L441.11,273.01L441.31,275.03L441.51,273.52L441.71,274.06L441.91,270.68L442.11,268.55L442.31,271.11L442.51,266.62L442.71,269.44L442.91,268.49L443.11,270.29L443.31,270.29L443.51,271.26L443.71,270.86L443.91,274.83L444.11,274.18L444.31,277.08L444.51,274.79L444.71,272.96L444.91,276.32L445.11,273.92L445.31,277.54L445.51,276.13L445.71,274.66L445.91,277.04L446.11,276.58L446.31,273.75L446.51,274.52L446.70,273.05L446.90,274.94L447.10,275.10L447.30,271.02L447.50,274.12L447.70,268.56L447.90,272.80L448.10,272.69L448.30,273.28L448.50,279.07L448.70,274.26L448.90,280.11L449.10,281.21L449.30,282.68L449.50,283.74L449.70,283.65L449.90,281.62L450.10,278.01L450.30,279.92L450.50,276.06L450.70,280.34L450.90,281.42L451.10,277.17L451.30,278.78L451.50,281.31L451.70,275.21L451.90,277.73L452.10,281.40L452.30,279.45L452.50,280.41L452.70,275.98L452.90,279.61L453.10,279.84L453.30,277.13L453.50,272.94L453.70,271.89L453.90,273.42L454.10,272.62L454.30,271.81L454.50,266.94L454.70,271.49L454.90,270.95L455.10,271.00L455.30,275.53L455.50,280.92L455.70,278.55L455.90,279.88L456.10,280.10L456.30,279.15L456.50,276.04L456.70,280.88L456.90,280.23L457.10,277.80L457.30,275.42L457.50,278.29L457.70,273.70L457.90,271.11L458.10,273.31L458.30,270.59L458.50,266.69L458.70,267.94L458.90,270.91L459.10,271.10L459.30,272.57L459.50,273.07L459.70,273.81L459.90,274.75L460.10,276.46L460.30,275.29L460.50,274.74L460.70,275.92L460.90,272.10L461.10,276.73L461.30,280.73L461.50,273.72L461.70,277.76L461.90,276.44L462.10,278.20L462.30,276.09L462.50,279.74L462.70,277.82L462.90,275.53L463.10,276.93L463.30,279.36L463.50,273.21L463.70,273.81L463.90,275.57L464.10,277.96L464.30,273.68L464.50,273.71L464.70,273.11L464.90,275.52L465.10,274.19L465.30,278.90L465.50,281.81L465.70,280.58L465.90,277.76L466.10,276.02L466.30,278.51L466.50,276.76L466.70,271.30L466.90,272.50L467.10,269.35L467.30,271.62L467.50,272.22L467.70,269.43L467.90,269.45L468.10,263.74L468.30,268.06L468.50,273.46L468.70,274.51L468.90,275.70L469.10,277.56L469.30,278.83L469.50,279.57L469.70,279.28L469.90,280.80L470.10,277.13L470.30,273.14L470.50,273.96L470.70,271.63L470.90,273.10L471.10,272.57L471.30,264.71L471.50,265.62L471.70,263.13L471.90,267.07L472.10,260.50L472.30,261.51L472.50,269.36L472.70,267.59L472.90,267.78L473.10,264.73L473.30,262.19L473.50,262.63L473.70,261.16L473.90,258.11L474.10,261.49L474.30,257.23L474.50,256.22L474.70,254.72L474.90,256.80L475.10,255.22L475.30,255.56L475.50,253.84L475.70,256.30L475.90,249.16L476.10,256.43L476.30,252.77L476.50,257.37L476.70,256.21L476.90,252.66L477.10,254.50L477.30,248.45L477.50,251.50L477.70,255.62L477.90,249.68L478.10,259.57L478.30,254.96L478.50,256.82L478.70,255.73L478.90,258.36L479.10,260.81L479.30,263.82L479.50,264.55L479.70,271.35L479.90,269.35L480.10,258.94L480.30,254.81L480.50,252.06L480.70,249.94L480.90,250.76L481.10,248.79L481.30,251.39L481.50,245.52L481.70,249.11L481.90,251.64L482.10,246.00L482.30,246.29L482.50,248.87L482.70,250.75L482.90,252.40L483.10,251.37L483.30,251.59L483.50,257.65L483.70,252.79L483.90,253.99L484.10,250.01L484.30,253.97L484.50,253.95L484.70,257.37L484.90,255.25L485.10,256.24L485.30,255.37L485.50,260.48L485.70,260.99L485.90,261.43L486.10,271.65L486.30,266.70L486.50,269.04L486.70,272.62L486.90,270.71L487.10,268.77L487.30,271.32L487.50,267.36L487.70,270.50L487.90,266.37L488.10,269.93L488.30,266.82L488.50,267.41L488.70,268.25L488.90,268.04L489.10,264.82L489.30,269.27L489.50,271.79L489.70,265.97L489.90,259.68L490.10,256.29L490.30,256.61L490.50,255.56L490.70,257.84L490.90,259.94L491.10,261.68" fill="none" stroke="#ff0000" stroke-width="1.05" stroke-linejoin="round"/>
<rect x="37.3" y="176.4" width="463.0" height="115.1" fill="none" stroke="#c2c2c2" stroke-width="1"/>
<path d="M46.50,291.5v-2.5M46.50,176.4v2.5M60.50,291.5v-1.5M60.50,176.4v1.5M74.50,291.5v-1.5M74.50,176.4v1.5M88.50,291.5v-1.5M88.50,176.4v1.5M102.50,291.5v-1.5M102.50,176.4v1.5M116.50,291.5v-2.5M116.50,176.4v2.5M130.50,291.5v-1.5M130.50,176.4v1.5M144.50,291.5v-1.5M144.50,176.4v1.5M158.50,291.5v-1.5M158.50,176.4v1.5M172.50,291.5v-1.5M172.50,176.4v1.5M186.50,291.5v-2.5M186.50,176.4v2.5M200.50,291.5v-1.5M200.50,176.4v1.5M214.50,291.5v-1.5M214.50,176.4v1.5M228.50,291.5v-1.5M228.50,176.4v1.5M242.50,291.5v-1.5M242.50,176.4v1.5M256.50,291.5v-2.5M256.50,176.4v2.5M270.50,291.5v-1.5M270.50,176.4v1.5M284.50,291.5v-1.5M284.50,176.4v1.5M298.50,291.5v-1.5M298.50,176.4v1.5M312.50,291.5v-1.5M312.50,176.4v1.5M326.50,291.5v-2.5M326.50,176.4v2.5M340.50,291.5v-1.5M340.50,176.4v1.5M354.50,291.5v-1.5M354.50,176.4v1.5M368.50,291.5v-1.5M368.50,176.4v1.5M382.50,291.5v-1.5M382.50,176.4v1.5M396.50,291.5v-2.5M396.50,176.4v2.5M410.50,291.5v-1.5M410.50,176.4v1.5M424.50,291.5v-1.5M424.50,176.4v1.5M438.50,291.5v-1.5M438.50,176.4v1.5M452.50,291.5v-1.5M452.50,176.4v1.5M466.50,291.5v-2.5M466.50,176.4v2.5M480.50,291.5v-1.5M480.50,176.4v1.5M494.50,291.5v-1.5M494.50,176.4v1.5M37.3,291.60h1.5M500.3,291.60h-1.5M37.3,287.60h1.5M500.3,287.60h-1.5M37.3,283.60h1.5M500.3,283.60h-1.5M37.3,279.60h2.5M500.3,279.60h-2.5M37.3,275.60h1.5M500.3,275.60h-1.5M37.3,271.60h1.5M500.3,271.60h-1.5M37.3,267.60h1.5M500.3,267.60h-1.5M37.3,263.60h2.5M500.3,263.60h-2.5M37.3,259.60h1.5M500.3,259.60h-1.5M37.3,255.60h1.5M500.3,255.60h-1.5M37.3,251.60h1.5M500.3,251.60h-1.5M37.3,247.60h2.5M500.3,247.60h-2.5M37.3,243.60h1.5M500.3,243.60h-1.5M37.3,239.60h1.5M500.3,239.60h-1.5M37.3,235.60h1.5M500.3,235.60h-1.5M37.3,231.60h2.5M500.3,231.60h-2.5M37.3,227.60h1.5M500.3,227.60h-1.5M37.3,223.60h1.5M500.3,223.60h-1.5M37.3,219.60h1.5M500.3,219.60h-1.5M37.3,215.60h2.5M500.3,215.60h-2.5M37.3,211.60h1.5M500.3,211.60h-1.5M37.3,207.60h1.5M500.3,207.60h-1.5M37.3,203.60h1.5M500.3,203.60h-1.5M37.3,199.60h2.5M500.3,199.60h-2.5M37.3,195.60h1.5M500.3,195.60h-1.5M37.3,191.60h1.5M500.3,191.60h-1.5M37.3,187.60h1.5M500.3,187.60h-1.5M37.3,183.60h2.5M500.3,183.60h-2.5M37.3,179.60h1.5M500.3,179.60h-1.5" stroke="#909090" stroke-width="0.8" fill="none"/>
<text transform="translate(35.0,284.37) scale(0.915,1)" text-anchor="end" font-family="Liberation Sans, sans-serif" font-size="12.2">60</text>
<text transform="translate(35.0,268.37) scale(0.915,1)" text-anchor="end" font-family="Liberation Sans, sans-serif" font-size="12.2">80</text>
<text transform="translate(35.0,252.37) scale(0.915,1)" text-anchor="end" font-family="Liberation Sans, sans-serif" font-size="12.2">100</text>
<text transform="translate(35.0,236.37) scale(0.915,1)" text-anchor="end" font-family="Liberation Sans, sans-serif" font-size="12.2">120</text>
<text transform="translate(35.0,220.37) scale(0.915,1)" text-anchor="end" font-family="Liberation Sans, sans-serif" font-size="12.2">140</text>
<text transform="translate(35.0,204.37) scale(0.915,1)" text-anchor="end" font-family="Liberation Sans, sans-serif" font-size="12.2">160</text>
<text transform="translate(35.0,188.37) scale(0.915,1)" text-anchor="end" font-family="Liberation Sans, sans-serif" font-size="12.2">180</text>
<text transform="translate(46.50,304.30) scale(0.915,1)" text-anchor="middle" font-family="Liberation Sans, sans-serif" font-size="12.2">0</text>
<text transform="translate(116.50,304.30) scale(0.915,1)" text-anchor="middle" font-family="Liberation Sans, sans-serif" font-size="12.2">1000</text>
<text transform="translate(186.50,304.30) scale(0.915,1)" text-anchor="middle" font-family="Liberation Sans, sans-serif" font-size="12.2">2000</text>
<text transform="translate(256.50,304.30) scale(0.915,1)" text-anchor="middle" font-family="Liberation Sans, sans-serif" font-size="12.2">3000</text>
<text transform="translate(326.50,304.30) scale(0.915,1)" text-anchor="middle" font-family="Liberation Sans, sans-serif" font-size="12.2">4000</text>
<text transform="translate(396.50,304.30) scale(0.915,1)" text-anchor="middle" font-family="Liberation Sans, sans-serif" font-size="12.2">5000</text>
<text transform="translate(466.50,304.30) scale(0.915,1)" text-anchor="middle" font-family="Liberation Sans, sans-serif" font-size="12.2">6000</text>
<text transform="translate(269.00,320.80) scale(0.915,1)" text-anchor="middle" font-family="Liberation Sans, sans-serif" font-size="12.2">Time t (s)</text>
<text transform="translate(9.8,233.6) rotate(-90)" text-anchor="middle" font-family="Liberation Sans, sans-serif" font-size="11.25">HR (bpm)</text>
<text x="251.4" y="337" text-anchor="middle" font-family="Liberation Serif, serif" font-size="13" textLength="72.8" lengthAdjust="spacing" fill="#262626">(b) heart rate</text>
<rect x="159.9" y="351.2" width="146.6" height="118.10000000000002" fill="#e5f6e4"/>
<line x1="40.60" y1="351.2" x2="40.60" y2="469.3" stroke="#ababab" stroke-width="0.8" stroke-dasharray="0.9 2.1"/>
<line x1="61.90" y1="351.2" x2="61.90" y2="469.3" stroke="#ababab" stroke-width="0.8" stroke-dasharray="0.9 2.1"/>
<line x1="83.20" y1="351.2" x2="83.20" y2="469.3" stroke="#ababab" stroke-width="0.8" stroke-dasharray="0.9 2.1"/>
<line x1="104.50" y1="351.2" x2="104.50" y2="469.3" stroke="#ababab" stroke-width="0.8" stroke-dasharray="0.9 2.1"/>
<line x1="125.80" y1="351.2" x2="125.80" y2="469.3" stroke="#ababab" stroke-width="0.8" stroke-dasharray="0.9 2.1"/>
<line x1="147.10" y1="351.2" x2="147.10" y2="469.3" stroke="#ababab" stroke-width="0.8" stroke-dasharray="0.9 2.1"/>
<line x1="168.40" y1="351.2" x2="168.40" y2="469.3" stroke="#ababab" stroke-width="0.8" stroke-dasharray="0.9 2.1"/>
<line x1="189.70" y1="351.2" x2="189.70" y2="469.3" stroke="#ababab" stroke-width="0.8" stroke-dasharray="0.9 2.1"/>
<line x1="211.00" y1="351.2" x2="211.00" y2="469.3" stroke="#ababab" stroke-width="0.8" stroke-dasharray="0.9 2.1"/>
<line x1="232.30" y1="351.2" x2="232.30" y2="469.3" stroke="#ababab" stroke-width="0.8" stroke-dasharray="0.9 2.1"/>
<line x1="253.60" y1="351.2" x2="253.60" y2="469.3" stroke="#ababab" stroke-width="0.8" stroke-dasharray="0.9 2.1"/>
<line x1="274.90" y1="351.2" x2="274.90" y2="469.3" stroke="#ababab" stroke-width="0.8" stroke-dasharray="0.9 2.1"/>
<line x1="296.20" y1="351.2" x2="296.20" y2="469.3" stroke="#ababab" stroke-width="0.8" stroke-dasharray="0.9 2.1"/>
<line x1="317.50" y1="351.2" x2="317.50" y2="469.3" stroke="#ababab" stroke-width="0.8" stroke-dasharray="0.9 2.1"/>
<line x1="338.80" y1="351.2" x2="338.80" y2="469.3" stroke="#ababab" stroke-width="0.8" stroke-dasharray="0.9 2.1"/>
<line x1="360.10" y1="351.2" x2="360.10" y2="469.3" stroke="#ababab" stroke-width="0.8" stroke-dasharray="0.9 2.1"/>
<line x1="381.40" y1="351.2" x2="381.40" y2="469.3" stroke="#ababab" stroke-width="0.8" stroke-dasharray="0.9 2.1"/>
<line x1="402.70" y1="351.2" x2="402.70" y2="469.3" stroke="#ababab" stroke-width="0.8" stroke-dasharray="0.9 2.1"/>
<line x1="424.00" y1="351.2" x2="424.00" y2="469.3" stroke="#ababab" stroke-width="0.8" stroke-dasharray="0.9 2.1"/>
<line x1="445.30" y1="351.2" x2="445.30" y2="469.3" stroke="#ababab" stroke-width="0.8" stroke-dasharray="0.9 2.1"/>
<line x1="466.60" y1="351.2" x2="466.60" y2="469.3" stroke="#ababab" stroke-width="0.8" stroke-dasharray="0.9 2.1"/>
<line x1="487.90" y1="351.2" x2="487.90" y2="469.3" stroke="#ababab" stroke-width="0.8" stroke-dasharray="0.9 2.1"/>
<path d="M40.60,450.96L41.10,451.14L41.60,453.49L42.10,450.06L42.60,448.84L43.10,449.02L43.60,447.11L44.10,446.54L44.60,446.55L45.10,444.77L45.60,444.58L46.10,443.11L46.60,443.68L47.10,444.68L47.60,442.65L48.10,441.60L48.60,438.88L49.10,435.52L49.60,432.09L50.10,432.45L50.60,428.79L51.10,426.69L51.60,424.38L52.10,425.05L52.60,423.35L53.10,426.09L53.60,426.01L54.10,426.18L54.60,437.17L55.10,445.82L55.60,445.16L56.10,445.43L56.60,445.38L57.10,444.09L57.60,443.94L58.10,442.13L58.60,440.89L59.10,437.28L59.60,432.18L60.10,427.91L60.60,426.68L61.10,421.34L61.60,419.93L62.10,418.46L62.60,417.33L63.10,416.23L63.61,418.71L64.11,421.49L64.61,424.56L65.11,429.82L65.61,435.81L66.11,441.06L66.61,437.50L67.11,435.73L67.61,434.81L68.11,432.25L68.61,435.73L69.11,441.22L69.61,435.57L70.11,432.98L70.61,430.41L71.11,429.88L71.61,429.61L72.11,429.40L72.61,428.01L73.11,428.63L73.61,428.61L74.11,429.15L74.61,430.65L75.11,433.03L75.61,433.54L76.11,438.44L76.61,441.35L77.11,444.21L77.61,447.96L78.11,449.10L78.61,451.30L79.11,452.94L79.61,449.05L80.11,445.78L80.61,443.01L81.11,440.38L81.61,439.41L82.11,437.51L82.61,437.19L83.11,436.05L83.61,435.50L84.11,433.77L84.61,434.39L85.11,434.18L85.61,433.34L86.11,432.82L86.61,432.69L87.11,434.22L87.61,434.89L88.11,431.48L88.61,434.14L89.11,433.96L89.61,434.41L90.11,432.91L90.61,432.67L91.11,434.40L91.61,431.61L92.11,433.85L92.61,439.50L93.11,444.97L93.61,446.77L94.11,447.07L94.61,449.49L95.11,450.12L95.61,451.41L96.11,452.34L96.61,450.88L97.11,448.69L97.61,446.84L98.11,443.60L98.61,441.89L99.11,439.01L99.61,439.62L100.11,439.51L100.61,436.08L101.11,437.89L101.61,435.96L102.11,434.43L102.61,434.66L103.11,434.67L103.61,434.83L104.11,434.55L104.61,434.85L105.11,433.16L105.61,431.02L106.11,430.89L106.61,430.10L107.11,425.52L107.61,431.69L108.11,437.12L108.62,441.60L109.12,443.09L109.62,441.12L110.12,441.60L110.62,440.21L111.12,438.25L111.62,438.13L112.12,436.73L112.62,435.69L113.12,434.52L113.62,433.35L114.12,433.17L114.62,433.07L115.12,433.27L115.62,432.78L116.12,433.79L116.62,433.84L117.12,434.33L117.62,435.96L118.12,436.86L118.62,438.97L119.12,440.42L119.62,438.48L120.12,438.84L120.62,436.87L121.12,437.64L121.62,437.71L122.12,439.03L122.62,438.49L123.12,439.35L123.62,437.71L124.12,437.59L124.62,432.97L125.12,429.81L125.62,427.43L126.12,425.69L126.62,423.02L127.12,421.99L127.62,421.11L128.12,419.83L128.62,419.24L129.12,421.36L129.62,429.86L130.12,425.31L130.62,420.35L131.12,418.55L131.62,416.39L132.12,415.66L132.62,415.68L133.12,414.39L133.62,413.29L134.12,413.83L134.62,412.56L135.12,415.24L135.62,417.37L136.12,417.81L136.62,418.63L137.12,418.15L137.62,418.51L138.12,420.40L138.62,421.30L139.12,420.40L139.62,418.88L140.12,417.92L140.62,415.81L141.12,413.06L141.62,411.58L142.12,411.11L142.62,412.11L143.12,411.04L143.62,410.61L144.12,412.97L144.62,412.08L145.12,411.14L145.62,411.81L146.12,414.00L146.62,416.42L147.12,418.77L147.62,419.87L148.12,419.63L148.62,419.15L149.12,418.39L149.62,418.44L150.12,417.97L150.62,419.74L151.12,424.33L151.62,427.57L152.12,430.70L152.62,428.39L153.12,424.53L153.63,421.27L154.13,427.14L154.63,430.21L155.13,433.26L155.63,433.52L156.13,432.04L156.63,428.95L157.13,426.04L157.63,422.87L158.13,423.07L158.63,419.70L159.13,420.00L159.63,424.41L160.13,432.16L160.63,440.31L161.13,442.17L161.63,434.01L162.13,426.00L162.63,418.15L163.13,415.73L163.63,415.16L164.13,412.56L164.63,411.13L165.13,410.03L165.63,411.48L166.13,409.97L166.63,409.95L167.13,409.59L167.63,410.38L168.13,411.19L168.63,412.14L169.13,412.01L169.63,412.63L170.13,411.04L170.63,410.15L171.13,407.40L171.63,406.82L172.13,405.19L172.63,404.19L173.13,403.21L173.63,404.75L174.13,404.01L174.63,404.15L175.13,403.13L175.63,405.03L176.13,403.99L176.63,403.76L177.13,404.24L177.63,404.31L178.13,403.47L178.63,403.80L179.13,402.06L179.63,405.60L180.13,405.11L180.63,402.80L181.13,403.77L181.63,406.12L182.13,406.99L182.63,406.62L183.13,406.71L183.63,406.92L184.13,405.77L184.63,405.16L185.13,405.66L185.63,404.82L186.13,405.34L186.63,404.86L187.13,407.03L187.63,406.91L188.13,407.17L188.63,407.15L189.13,409.27L189.63,407.98L190.13,408.09L190.63,405.79L191.13,404.87L191.63,403.50L192.13,403.74L192.63,401.51L193.13,403.09L193.63,404.54L194.13,404.21L194.63,403.73L195.13,402.81L195.63,404.11L196.13,404.48L196.63,402.86L197.13,403.53L197.63,401.29L198.13,400.63L198.64,401.21L199.14,399.97L199.64,400.07L200.14,401.14L200.64,401.03L201.14,402.16L201.64,402.03L202.14,403.35L202.64,405.66L203.14,405.01L203.64,404.24L204.14,404.33L204.64,405.71L205.14,405.25L205.64,405.60L206.14,404.76L206.64,404.90L207.14,403.50L207.64,403.61L208.14,402.29L208.64,404.02L209.14,397.24L209.64,386.60L210.14,379.42L210.64,380.53L211.14,380.10L211.64,379.12L212.14,378.28L212.64,378.08L213.14,378.83L213.64,379.69L214.14,379.17L214.64,377.96L215.14,379.33L215.64,378.01L216.14,376.39L216.64,378.15L217.14,377.33L217.64,378.82L218.14,379.77L218.64,380.43L219.14,381.66L219.64,383.80L220.14,385.05L220.64,384.23L221.14,381.73L221.64,382.18L222.14,381.04L222.64,377.35L223.14,376.09L223.64,376.35L224.14,375.08L224.64,373.63L225.14,374.60L225.64,373.84L226.14,372.88L226.64,373.56L227.14,373.91L227.64,372.70L228.14,373.33L228.64,373.47L229.14,374.48L229.64,373.73L230.14,373.41L230.64,374.02L231.14,374.11L231.64,374.90L232.14,374.77L232.64,375.27L233.14,374.16L233.64,373.58L234.14,373.93L234.64,374.27L235.14,373.25L235.64,372.14L236.14,371.15L236.64,373.44L237.14,372.25L237.64,370.94L238.14,372.33L238.64,372.19L239.14,371.14L239.64,371.80L240.14,373.05L240.64,373.75L241.14,373.67L241.64,373.51L242.14,373.50L242.64,373.09L243.14,374.52L243.65,373.87L244.15,373.94L244.65,374.67L245.15,374.10L245.65,374.79L246.15,374.57L246.65,374.93L247.15,374.84L247.65,374.20L248.15,371.84L248.65,372.10L249.15,371.94L249.65,372.54L250.15,371.65L250.65,372.32L251.15,370.99L251.65,370.78L252.15,370.99L252.65,370.77L253.15,372.60L253.65,373.39L254.15,372.40L254.65,374.19L255.15,375.56L255.65,374.45L256.15,375.39L256.65,376.41L257.15,376.80L257.65,376.85L258.15,374.85L258.65,374.08L259.15,373.71L259.65,372.63L260.15,371.98L260.65,371.96L261.15,371.05L261.65,370.86L262.15,371.92L262.65,370.59L263.15,370.82L263.65,369.06L264.15,372.08L264.65,370.34L265.15,369.05L265.65,368.25L266.15,369.63L266.65,368.93L267.15,368.31L267.65,368.85L268.15,367.82L268.65,368.57L269.15,368.61L269.65,366.90L270.15,368.02L270.65,367.74L271.15,365.48L271.65,365.62L272.15,366.83L272.65,366.34L273.15,366.94L273.65,367.19L274.15,366.57L274.65,365.28L275.15,365.09L275.65,365.93L276.15,367.10L276.65,364.25L277.15,365.02L277.65,363.76L278.15,363.27L278.65,362.55L279.15,363.68L279.65,363.99L280.15,364.04L280.65,363.43L281.15,363.62L281.65,364.98L282.15,364.02L282.65,364.67L283.15,363.93L283.65,363.77L284.15,362.95L284.65,361.20L285.15,364.11L285.65,365.86L286.15,366.55L286.65,366.28L287.15,366.62L287.65,366.91L288.15,368.22L288.66,367.58L289.16,365.61L289.66,363.07L290.16,362.11L290.66,360.91L291.16,360.18L291.66,359.99L292.16,361.48L292.66,360.61L293.16,361.08L293.66,361.61L294.16,363.24L294.66,364.01L295.16,364.79L295.66,363.71L296.16,366.16L296.66,366.27L297.16,366.16L297.66,367.80L298.16,367.30L298.66,366.87L299.16,366.90L299.66,367.99L300.16,366.92L300.66,367.19L301.16,368.21L301.66,365.30L302.16,366.90L302.66,370.59L303.16,371.07L303.66,373.06L304.16,373.99L304.66,377.39L305.16,378.04L305.66,380.45L306.16,381.67L306.66,380.93L307.16,382.48L307.66,384.22L308.16,388.10L308.66,390.72L309.16,392.50L309.66,396.08L310.16,397.25L310.66,398.47L311.16,398.97L311.66,397.54L312.16,402.18L312.66,419.29L313.16,439.32L313.66,441.74L314.16,443.06L314.66,443.69L315.16,443.83L315.66,444.37L316.16,438.97L316.66,433.41L317.16,428.31L317.66,425.59L318.16,430.10L318.66,437.92L319.16,441.37L319.66,447.53L320.16,448.87L320.66,444.70L321.16,442.96L321.66,438.56L322.16,437.22L322.66,439.21L323.16,440.45L323.66,442.11L324.16,443.62L324.66,447.18L325.16,450.50L325.66,452.79L326.16,453.20L326.66,451.47L327.16,449.57L327.66,444.07L328.16,440.45L328.66,439.63L329.16,442.28L329.66,445.29L330.16,441.06L330.66,438.34L331.16,434.80L331.66,435.06L332.16,438.29L332.66,439.90L333.16,442.20L333.67,441.94L334.17,438.28L334.67,431.33L335.17,426.79L335.67,423.01L336.17,419.23L336.67,416.88L337.17,412.47L337.67,412.48L338.17,411.12L338.67,409.68L339.17,410.58L339.67,413.82L340.17,418.05L340.67,425.65L341.17,431.20L341.67,431.52L342.17,434.85L342.67,435.13L343.17,434.68L343.67,432.36L344.17,431.62L344.67,436.71L345.17,437.59L345.67,433.93L346.17,429.87L346.67,424.52L347.17,425.92L347.67,432.38L348.17,437.68L348.67,438.01L349.17,438.23L349.67,438.59L350.17,438.55L350.67,438.83L351.17,437.39L351.67,438.16L352.17,438.60L352.67,439.88L353.17,439.59L353.67,440.70L354.17,443.55L354.67,443.26L355.17,445.64L355.67,448.64L356.17,448.71L356.67,450.94L357.17,452.28L357.67,453.69L358.17,451.03L358.67,446.96L359.17,444.54L359.67,439.89L360.17,435.99L360.67,431.34L361.17,426.72L361.67,423.35L362.17,421.15L362.67,425.17L363.17,430.30L363.67,434.52L364.17,438.25L364.67,437.69L365.17,439.04L365.67,438.41L366.17,440.16L366.67,444.37L367.17,447.78L367.67,452.39L368.17,454.89L368.67,457.62L369.17,457.23L369.67,455.22L370.17,452.64L370.67,449.55L371.17,449.83L371.67,447.96L372.17,448.32L372.67,447.08L373.17,448.05L373.67,448.14L374.17,447.53L374.67,446.78L375.17,447.18L375.67,447.18L376.17,445.28L376.67,444.29L377.17,444.67L377.67,444.76L378.17,443.17L378.68,446.46L379.18,446.60L379.68,448.43L380.18,449.83L380.68,451.71L381.18,452.96L381.68,454.92L382.18,456.41L382.68,455.34L383.18,456.23L383.68,455.05L384.18,454.31L384.68,455.40L385.18,453.22L385.68,451.75L386.18,450.10L386.68,449.48L387.18,447.72L387.68,447.43L388.18,447.41L388.68,450.37L389.18,447.95L389.68,447.05L390.18,447.35L390.68,449.51L391.18,449.33L391.68,451.39L392.18,452.56L392.68,453.31L393.18,453.76L393.68,456.07L394.18,456.95L394.68,454.22L395.18,452.44L395.68,452.44L396.18,449.67L396.68,446.20L397.18,444.86L397.68,439.97L398.18,441.19L398.68,443.71L399.18,448.87L399.68,452.69L400.18,457.09L400.68,461.09L401.18,462.62L401.68,460.94L402.18,458.56L402.68,457.64L403.18,453.45L403.68,452.94L404.18,447.31L404.68,444.44L405.18,442.24L405.68,439.10L406.18,434.92L406.68,430.77L407.18,428.98L407.68,425.68L408.18,424.96L408.68,423.92L409.18,422.95L409.68,422.02L410.18,420.03L410.68,418.73L411.18,417.74L411.68,415.29L412.18,414.40L412.68,412.75L413.18,410.40L413.68,409.58L414.18,412.11L414.68,411.93L415.18,413.01L415.68,408.49L416.18,405.64L416.68,404.96L417.18,404.05L417.68,404.25L418.18,404.92L418.68,406.19L419.18,408.16L419.68,412.06L420.18,414.28L420.68,414.86L421.18,415.99L421.68,415.07L422.18,424.45L422.68,432.56L423.18,430.87L423.69,429.46L424.19,439.75L424.69,442.81L425.19,443.67L425.69,442.55L426.19,445.60L426.69,445.00L427.19,445.97L427.69,447.72L428.19,447.35L428.69,447.42L429.19,447.02L429.69,447.89L430.19,450.62L430.69,449.82L431.19,450.87L431.69,451.40L432.19,453.23L432.69,455.23L433.19,455.30L433.69,455.56L434.19,458.45L434.69,456.71L435.19,457.09L435.69,458.35L436.19,459.36L436.69,459.41L437.19,458.23L437.69,458.53L438.19,458.07L438.69,458.84L439.19,459.65L439.69,459.26L440.19,456.66L440.69,456.96L441.19,456.90L441.69,456.70L442.19,456.86L442.69,456.74L443.19,456.58L443.69,456.34L444.19,457.03L444.69,457.28L445.19,457.29L445.69,457.44L446.19,457.87L446.69,458.29L447.19,458.42L447.69,458.06L448.19,456.95L448.69,455.79L449.19,456.52L449.69,458.21L450.19,460.61L450.69,459.80L451.19,459.30L451.69,459.73L452.19,458.19L452.69,457.98L453.19,459.39L453.69,456.42L454.19,454.71L454.69,453.43L455.19,450.23L455.69,448.78L456.19,450.51L456.69,450.95L457.19,450.93L457.69,450.02L458.19,449.82L458.69,448.85L459.19,449.24L459.69,447.56L460.19,449.08L460.69,449.65L461.19,451.56L461.69,452.95L462.19,453.54L462.69,455.52L463.19,455.62L463.69,455.98L464.19,458.12L464.69,458.31L465.19,459.13L465.69,460.62L466.19,459.05L466.69,454.36L467.19,452.73L467.69,448.85L468.19,448.95L468.70,452.74L469.20,451.53L469.70,450.51L470.20,447.92L470.70,447.28L471.20,443.67L471.70,439.38L472.20,442.92L472.70,447.82L473.20,451.08L473.70,454.70L474.20,454.76L474.70,455.09L475.20,452.43L475.70,445.39L476.20,440.18L476.70,433.95L477.20,429.03L477.70,425.38L478.20,422.37L478.70,419.54L479.20,417.48L479.70,413.33L480.20,414.38L480.70,415.55L481.20,415.61L481.70,415.24L482.20,417.39L482.70,415.59L483.20,415.85L483.70,413.05L484.20,411.67L484.70,410.89L485.20,408.78L485.70,406.09L486.20,406.34L486.70,405.44L487.20,402.69L487.70,418.80L488.20,424.49L488.70,431.82L489.20,434.31L489.70,432.97L490.20,433.47L490.70,432.33L491.20,433.35" fill="none" stroke="#383838" stroke-width="1.1" stroke-linejoin="round"/>
<rect x="30.9" y="351.2" width="469.40000000000003" height="118.10000000000002" fill="none" stroke="#c2c2c2" stroke-width="1"/>
<path d="M40.60,469.3v-2.5M40.60,351.2v2.5M54.80,469.3v-1.5M54.80,351.2v1.5M69.00,469.3v-1.5M69.00,351.2v1.5M83.20,469.3v-1.5M83.20,351.2v1.5M97.40,469.3v-1.5M97.40,351.2v1.5M111.60,469.3v-2.5M111.60,351.2v2.5M125.80,469.3v-1.5M125.80,351.2v1.5M140.00,469.3v-1.5M140.00,351.2v1.5M154.20,469.3v-1.5M154.20,351.2v1.5M168.40,469.3v-1.5M168.40,351.2v1.5M182.60,469.3v-2.5M182.60,351.2v2.5M196.80,469.3v-1.5M196.80,351.2v1.5M211.00,469.3v-1.5M211.00,351.2v1.5M225.20,469.3v-1.5M225.20,351.2v1.5M239.40,469.3v-1.5M239.40,351.2v1.5M253.60,469.3v-2.5M253.60,351.2v2.5M267.80,469.3v-1.5M267.80,351.2v1.5M282.00,469.3v-1.5M282.00,351.2v1.5M296.20,469.3v-1.5M296.20,351.2v1.5M310.40,469.3v-1.5M310.40,351.2v1.5M324.60,469.3v-2.5M324.60,351.2v2.5M338.80,469.3v-1.5M338.80,351.2v1.5M353.00,469.3v-1.5M353.00,351.2v1.5M367.20,469.3v-1.5M367.20,351.2v1.5M381.40,469.3v-1.5M381.40,351.2v1.5M395.60,469.3v-2.5M395.60,351.2v2.5M409.80,469.3v-1.5M409.80,351.2v1.5M424.00,469.3v-1.5M424.00,351.2v1.5M438.20,469.3v-1.5M438.20,351.2v1.5M452.40,469.3v-1.5M452.40,351.2v1.5M466.60,469.3v-2.5M466.60,351.2v2.5M480.80,469.3v-1.5M480.80,351.2v1.5M495.00,469.3v-1.5M495.00,351.2v1.5M30.9,468.80h2.5M500.3,468.80h-2.5M30.9,464.13h1.5M500.3,464.13h-1.5M30.9,459.46h1.5M500.3,459.46h-1.5M30.9,454.79h1.5M500.3,454.79h-1.5M30.9,450.12h1.5M500.3,450.12h-1.5M30.9,445.45h2.5M500.3,445.45h-2.5M30.9,440.78h1.5M500.3,440.78h-1.5M30.9,436.11h1.5M500.3,436.11h-1.5M30.9,431.44h1.5M500.3,431.44h-1.5M30.9,426.77h1.5M500.3,426.77h-1.5M30.9,422.10h2.5M500.3,422.10h-2.5M30.9,417.43h1.5M500.3,417.43h-1.5M30.9,412.76h1.5M500.3,412.76h-1.5M30.9,408.09h1.5M500.3,408.09h-1.5M30.9,403.42h1.5M500.3,403.42h-1.5M30.9,398.75h2.5M500.3,398.75h-2.5M30.9,394.08h1.5M500.3,394.08h-1.5M30.9,389.41h1.5M500.3,389.41h-1.5M30.9,384.74h1.5M500.3,384.74h-1.5M30.9,380.07h1.5M500.3,380.07h-1.5M30.9,375.40h2.5M500.3,375.40h-2.5M30.9,370.73h1.5M500.3,370.73h-1.5M30.9,366.06h1.5M500.3,366.06h-1.5M30.9,361.39h1.5M500.3,361.39h-1.5M30.9,356.72h1.5M500.3,356.72h-1.5M30.9,352.05h2.5M500.3,352.05h-2.5" stroke="#909090" stroke-width="0.8" fill="none"/>
<text transform="translate(29.0,473.67) scale(0.915,1)" text-anchor="end" font-family="Liberation Sans, sans-serif" font-size="12.2">0</text>
<text transform="translate(29.0,450.32) scale(0.915,1)" text-anchor="end" font-family="Liberation Sans, sans-serif" font-size="12.2">10</text>
<text transform="translate(29.0,426.97) scale(0.915,1)" text-anchor="end" font-family="Liberation Sans, sans-serif" font-size="12.2">20</text>
<text transform="translate(29.0,403.62) scale(0.915,1)" text-anchor="end" font-family="Liberation Sans, sans-serif" font-size="12.2">30</text>
<text transform="translate(29.0,380.27) scale(0.915,1)" text-anchor="end" font-family="Liberation Sans, sans-serif" font-size="12.2">40</text>
<text transform="translate(29.0,356.92) scale(0.915,1)" text-anchor="end" font-family="Liberation Sans, sans-serif" font-size="12.2">50</text>
<text transform="translate(40.60,482.10) scale(0.915,1)" text-anchor="middle" font-family="Liberation Sans, sans-serif" font-size="12.2">0</text>
<text transform="translate(111.60,482.10) scale(0.915,1)" text-anchor="middle" font-family="Liberation Sans, sans-serif" font-size="12.2">1000</text>
<text transform="translate(182.60,482.10) scale(0.915,1)" text-anchor="middle" font-family="Liberation Sans, sans-serif" font-size="12.2">2000</text>
<text transform="translate(253.60,482.10) scale(0.915,1)" text-anchor="middle" font-family="Liberation Sans, sans-serif" font-size="12.2">3000</text>
<text transform="translate(324.60,482.10) scale(0.915,1)" text-anchor="middle" font-family="Liberation Sans, sans-serif" font-size="12.2">4000</text>
<text transform="translate(395.60,482.10) scale(0.915,1)" text-anchor="middle" font-family="Liberation Sans, sans-serif" font-size="12.2">5000</text>
<text transform="translate(466.60,482.10) scale(0.915,1)" text-anchor="middle" font-family="Liberation Sans, sans-serif" font-size="12.2">6000</text>
<text transform="translate(265.50,498.60) scale(0.915,1)" text-anchor="middle" font-family="Liberation Sans, sans-serif" font-size="12.2">Time t (s)</text>
<text transform="translate(9.6,411.6) rotate(-90)" text-anchor="middle" font-family="Liberation Sans, sans-serif" font-size="11.25">BR (cpm)</text>
<text x="251.35" y="518" text-anchor="middle" font-family="Liberation Serif, serif" font-size="13" textLength="95.3" lengthAdjust="spacing" fill="#262626">(c) breathing rate</text>
</svg></body></html>
